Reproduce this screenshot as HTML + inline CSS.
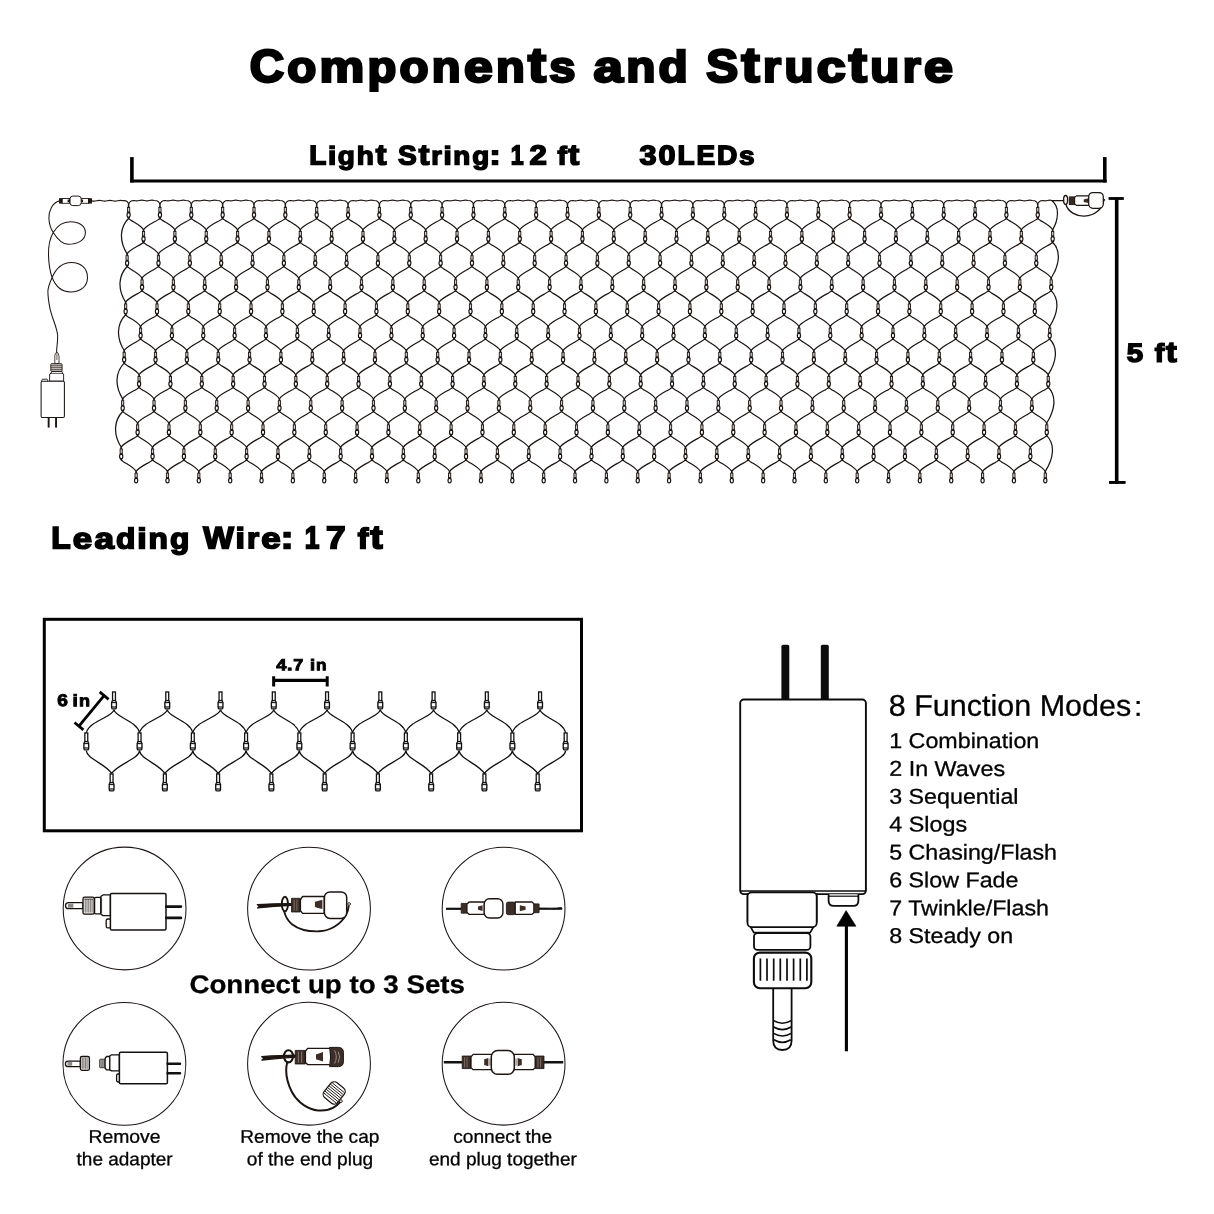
<!DOCTYPE html>
<html><head><meta charset="utf-8"><title>Components and Structure</title>
<style>
html,body{margin:0;padding:0;background:#fff;}
body{width:1214px;height:1214px;overflow:hidden;}
svg{display:block;position:absolute;left:0;top:0;}
text{font-family:"Liberation Sans",sans-serif;fill:#000;text-rendering:geometricPrecision;}
</style></head><body>
<svg width="1214" height="1214" viewBox="0 0 1214 1214">
<rect width="1214" height="1214" fill="#fff"/>
<g opacity="0.999">
<g font-weight="bold" stroke="#000" stroke-linejoin="miter" fill="#000">
<text transform="matrix(1.04 0.001 0 1 249.85 81.7)" font-size="45.75" stroke-width="2.6">C</text><text transform="matrix(1.04 0.001 0 0.943 287.3 81.78)" font-size="45.75" stroke-width="2.6">o</text><text transform="matrix(1.1 0.001 0 0.943 319.5 81.78)" font-size="45.75" stroke-width="2.6">m</text><text transform="matrix(1.03 0.001 0 0.943 367.61 81.78)" font-size="45.75" stroke-width="2.6">p</text><text transform="matrix(1.04 0.001 0 0.943 399.56 81.78)" font-size="45.75" stroke-width="2.6">o</text><text transform="matrix(1.03 0.001 0 0.943 431.78 81.78)" font-size="45.75" stroke-width="2.6">n</text><text transform="matrix(1.13 0.001 0 0.943 463.88 81.78)" font-size="45.75" stroke-width="2.6">e</text><text transform="matrix(1.03 0.001 0 0.943 495.94 81.78)" font-size="45.75" stroke-width="2.6">n</text><text transform="matrix(1.18 0.001 0 1.06 527.99 81.62)" font-size="45.75" stroke-width="2.6">t</text><text transform="matrix(1.03 0.001 0 0.943 549.22 81.78)" font-size="45.75" stroke-width="2.6">s</text>
<text transform="matrix(1.14 0.001 0 0.943 593.61 81.76)" font-size="46.38" stroke-width="2.63">a</text><text transform="matrix(1.03 0.001 0 0.943 626.18 81.76)" font-size="46.38" stroke-width="2.63">n</text><text transform="matrix(1.03 0.001 0 0.943 658.56 81.76)" font-size="46.38" stroke-width="2.63">d</text>
<text transform="matrix(1.04 0.001 0 1 706.32 81.69)" font-size="46" stroke-width="2.61">S</text><text transform="matrix(1.18 0.001 0 1.06 741.42 81.62)" font-size="46" stroke-width="2.61">t</text><text transform="matrix(1.01 0.001 0 0.943 763.09 81.77)" font-size="46" stroke-width="2.61">r</text><text transform="matrix(1.03 0.001 0 0.943 784.38 81.77)" font-size="46" stroke-width="2.61">u</text><text transform="matrix(1.13 0.001 0 0.943 816.66 81.77)" font-size="46" stroke-width="2.61">c</text><text transform="matrix(1.18 0.001 0 1.06 848.87 81.62)" font-size="46" stroke-width="2.61">t</text><text transform="matrix(1.03 0.001 0 0.943 870.36 81.77)" font-size="46" stroke-width="2.61">u</text><text transform="matrix(1.01 0.001 0 0.943 902.8 81.77)" font-size="46" stroke-width="2.61">r</text><text transform="matrix(1.13 0.001 0 0.943 924.11 81.77)" font-size="46" stroke-width="2.61">e</text>
<text transform="matrix(1.03 0.001 0 1 309.3 164.43)" font-size="27.12" stroke-width="1.54">L</text><text transform="matrix(1.1 0.001 0 0.943 327.93 164.47)" font-size="27.12" stroke-width="1.54">i</text><text transform="matrix(1.03 0.001 0 0.943 337.73 164.47)" font-size="27.12" stroke-width="1.54">g</text><text transform="matrix(1.03 0.001 0 0.943 356.84 164.47)" font-size="27.12" stroke-width="1.54">h</text><text transform="matrix(1.18 0.001 0 1.06 375.82 164.38)" font-size="27.12" stroke-width="1.54">t</text>
<text transform="matrix(1.04 0.001 0 1 398.05 164.43)" font-size="26.99" stroke-width="1.53">S</text><text transform="matrix(1.18 0.001 0 1.06 418.65 164.39)" font-size="26.99" stroke-width="1.53">t</text><text transform="matrix(1.01 0.001 0 0.943 431.37 164.48)" font-size="26.99" stroke-width="1.53">r</text><text transform="matrix(1.1 0.001 0 0.943 443.48 164.48)" font-size="26.99" stroke-width="1.53">i</text><text transform="matrix(1.03 0.001 0 0.943 453.31 164.48)" font-size="26.99" stroke-width="1.53">n</text><text transform="matrix(1.03 0.001 0 0.943 472.16 164.48)" font-size="26.99" stroke-width="1.53">g</text><text transform="matrix(1.23 0.001 0 1 489.38 164.43)" font-size="26.99" stroke-width="1.53">:</text>
<text transform="matrix(0.84 0.001 0 1 510.81 164.42)" font-size="27.6" stroke-width="1.57">1</text><text transform="matrix(1.13 0.001 0 1 529.5 164.42)" font-size="27.6" stroke-width="1.57">2</text>
<text transform="matrix(1.04 0.001 0 0.943 557.41 164.47)" font-size="27.15" stroke-width="1.54">f</text><text transform="matrix(1.18 0.001 0 1.06 568.61 164.38)" font-size="27.15" stroke-width="1.54">t</text>
<text transform="matrix(1.13 0.001 0 1 639.38 164.43)" font-size="27.1" stroke-width="1.54">3</text><text transform="matrix(1.13 0.001 0 1 658.45 164.43)" font-size="27.1" stroke-width="1.54">0</text><text transform="matrix(1.03 0.001 0 1 677.44 164.43)" font-size="27.1" stroke-width="1.54">L</text><text transform="matrix(1.03 0.001 0 1 696.43 164.43)" font-size="27.1" stroke-width="1.54">E</text><text transform="matrix(1.04 0.001 0 1 716.99 164.43)" font-size="27.1" stroke-width="1.54">D</text><text transform="matrix(1.03 0.001 0 0.943 739.09 164.47)" font-size="27.1" stroke-width="1.54">s</text>
<text transform="matrix(1.13 0.001 0 1 1126.68 361.86)" font-size="26.12" stroke-width="1.48">5</text>
<text transform="matrix(1.04 0.001 0 0.943 1154.81 361.87)" font-size="27.15" stroke-width="1.54">f</text><text transform="matrix(1.18 0.001 0 1.06 1166.01 361.78)" font-size="27.15" stroke-width="1.54">t</text>
<text transform="matrix(1.03 0.001 0 1 51.26 548.33)" font-size="30.79" stroke-width="1.75">L</text><text transform="matrix(1.13 0.001 0 0.943 72.85 548.38)" font-size="30.79" stroke-width="1.75">e</text><text transform="matrix(1.14 0.001 0 0.943 94.4 548.38)" font-size="30.79" stroke-width="1.75">a</text><text transform="matrix(1.03 0.001 0 0.943 115.93 548.38)" font-size="30.79" stroke-width="1.75">d</text><text transform="matrix(1.1 0.001 0 0.943 137.17 548.38)" font-size="30.79" stroke-width="1.75">i</text><text transform="matrix(1.03 0.001 0 0.943 148.39 548.38)" font-size="30.79" stroke-width="1.75">n</text><text transform="matrix(1.03 0.001 0 0.943 169.88 548.38)" font-size="30.79" stroke-width="1.75">g</text>
<text transform="matrix(1.05 0.001 0 1 203.24 548.32)" font-size="30.9" stroke-width="1.75">W</text><text transform="matrix(1.1 0.001 0 0.943 235.5 548.37)" font-size="30.9" stroke-width="1.75">i</text><text transform="matrix(1.01 0.001 0 0.943 246.88 548.37)" font-size="30.9" stroke-width="1.75">r</text><text transform="matrix(1.13 0.001 0 0.943 261.19 548.37)" font-size="30.9" stroke-width="1.75">e</text><text transform="matrix(1.23 0.001 0 1 280.8 548.32)" font-size="30.9" stroke-width="1.75">:</text>
<text transform="matrix(0.84 0.001 0 1 304.8 548.31)" font-size="31.4" stroke-width="1.78">1</text><text transform="matrix(1.12 0.001 0 1 326.1 548.31)" font-size="31.4" stroke-width="1.78">7</text>
<text transform="matrix(1.04 0.001 0 0.943 357.75 548.38)" font-size="30.74" stroke-width="1.75">f</text><text transform="matrix(1.18 0.001 0 1.06 370.43 548.28)" font-size="30.74" stroke-width="1.75">t</text>
</g>
<g fill="#000">
<rect x="130.1" y="179.5" width="976.5" height="3"/>
<rect x="130.1" y="157.1" width="3.6" height="25.4"/>
<rect x="1103" y="157.1" width="3.6" height="25.4"/>
<rect x="1114.9" y="197.2" width="3.6" height="286.7"/>
<rect x="1108.6" y="197.1" width="15.2" height="2.8"/>
<rect x="1109" y="481" width="16.6" height="2.9"/>
</g>
<defs>
<g id="b"><path d="M0 0.2V2" stroke="#1c1512" stroke-width="1.7" fill="none"/><rect x="-1.1" y="2.0" width="2.2" height="4.5" fill="#cfccca" stroke="#1c1512" stroke-width="0.9"/><ellipse cx="0" cy="9.3" rx="1.6" ry="2.45" fill="#fff" stroke="#1c1512" stroke-width="1.2"/><path d="M-1.65 8.3 Q-1.4 6.35 0 6.35 Q1.4 6.35 1.65 8.3 Q0 7.4 -1.65 8.3Z" fill="#1c1512"/><path d="M-1.3 11.1 L0 12.8 L1.3 11.1" fill="none" stroke="#1c1512" stroke-width="1.05"/></g>
<g id="b2"><path d="M0 0.2V2" stroke="#1c1512" stroke-width="1.7" fill="none"/><rect x="-1.1" y="2.0" width="2.2" height="4.5" fill="#cfccca" stroke="#1c1512" stroke-width="0.9"/><ellipse cx="0" cy="9.3" rx="1.6" ry="2.45" fill="#fff" stroke="#1c1512" stroke-width="1.2"/><path d="M-1.65 8.3 Q-1.4 6.35 0 6.35 Q1.4 6.35 1.65 8.3 Q0 7.4 -1.65 8.3Z" fill="#1c1512"/></g>
</defs>
<path d="M128.6 218.3C130.69 221.05 140.69 224.61 143.53 229.77M159.95 218.3C157.65 221.05 146.65 224.61 143.53 229.77M159.95 218.3C162.04 221.05 172.04 224.61 174.88 229.77M191.3 218.3C189 221.05 178 224.61 174.88 229.77M191.3 218.3C193.39 221.05 203.39 224.61 206.23 229.77M222.65 218.3C220.35 221.05 209.35 224.61 206.23 229.77M222.65 218.3C224.74 221.05 234.74 224.61 237.58 229.77M254 218.3C251.7 221.05 240.7 224.61 237.58 229.77M254 218.3C256.09 221.05 266.09 224.61 268.93 229.77M285.35 218.3C283.05 221.05 272.05 224.61 268.93 229.77M285.35 218.3C287.44 221.05 297.44 224.61 300.28 229.77M316.7 218.3C314.4 221.05 303.4 224.61 300.28 229.77M316.7 218.3C318.79 221.05 328.79 224.61 331.63 229.77M348.05 218.3C345.75 221.05 334.75 224.61 331.63 229.77M348.05 218.3C350.14 221.05 360.14 224.61 362.98 229.77M379.4 218.3C377.1 221.05 366.1 224.61 362.98 229.77M379.4 218.3C381.49 221.05 391.49 224.61 394.33 229.77M410.75 218.3C408.45 221.05 397.45 224.61 394.33 229.77M410.75 218.3C412.84 221.05 422.84 224.61 425.68 229.77M442.1 218.3C439.8 221.05 428.8 224.61 425.68 229.77M442.1 218.3C444.19 221.05 454.19 224.61 457.03 229.77M473.45 218.3C471.15 221.05 460.15 224.61 457.03 229.77M473.45 218.3C475.54 221.05 485.54 224.61 488.38 229.77M504.8 218.3C502.5 221.05 491.5 224.61 488.38 229.77M504.8 218.3C506.89 221.05 516.89 224.61 519.73 229.77M536.15 218.3C533.85 221.05 522.85 224.61 519.73 229.77M536.15 218.3C538.24 221.05 548.24 224.61 551.08 229.77M567.5 218.3C565.2 221.05 554.2 224.61 551.08 229.77M567.5 218.3C569.59 221.05 579.59 224.61 582.43 229.77M598.85 218.3C596.55 221.05 585.55 224.61 582.43 229.77M598.85 218.3C600.94 221.05 610.94 224.61 613.78 229.77M630.2 218.3C627.9 221.05 616.9 224.61 613.78 229.77M630.2 218.3C632.29 221.05 642.29 224.61 645.13 229.77M661.55 218.3C659.25 221.05 648.25 224.61 645.13 229.77M661.55 218.3C663.64 221.05 673.64 224.61 676.48 229.77M692.9 218.3C690.6 221.05 679.6 224.61 676.48 229.77M692.9 218.3C694.99 221.05 704.99 224.61 707.83 229.77M724.25 218.3C721.95 221.05 710.95 224.61 707.83 229.77M724.25 218.3C726.34 221.05 736.34 224.61 739.18 229.77M755.6 218.3C753.3 221.05 742.3 224.61 739.18 229.77M755.6 218.3C757.69 221.05 767.69 224.61 770.53 229.77M786.95 218.3C784.65 221.05 773.65 224.61 770.53 229.77M786.95 218.3C789.04 221.05 799.04 224.61 801.88 229.77M818.3 218.3C816 221.05 805 224.61 801.88 229.77M818.3 218.3C820.39 221.05 830.39 224.61 833.23 229.77M849.65 218.3C847.35 221.05 836.35 224.61 833.23 229.77M849.65 218.3C851.74 221.05 861.74 224.61 864.58 229.77M881 218.3C878.7 221.05 867.7 224.61 864.58 229.77M881 218.3C883.09 221.05 893.09 224.61 895.93 229.77M912.35 218.3C910.05 221.05 899.05 224.61 895.93 229.77M912.35 218.3C914.44 221.05 924.44 224.61 927.28 229.77M943.7 218.3C941.4 221.05 930.4 224.61 927.28 229.77M943.7 218.3C945.79 221.05 955.79 224.61 958.63 229.77M975.05 218.3C972.75 221.05 961.75 224.61 958.63 229.77M975.05 218.3C977.14 221.05 987.14 224.61 989.98 229.77M1006.4 218.3C1004.1 221.05 993.1 224.61 989.98 229.77M1006.4 218.3C1008.49 221.05 1018.49 224.61 1021.33 229.77M1037.75 218.3C1035.45 221.05 1024.45 224.61 1021.33 229.77M1037.75 218.3C1039.84 221.05 1049.84 224.61 1052.68 229.77M143.53 242.27C141.23 245.07 130.24 248.69 127.12 253.94M143.53 242.27C145.62 245.07 155.63 248.69 158.47 253.94M174.88 242.27C172.58 245.07 161.59 248.69 158.47 253.94M174.88 242.27C176.97 245.07 186.98 248.69 189.82 253.94M206.23 242.27C203.93 245.07 192.94 248.69 189.82 253.94M206.23 242.27C208.32 245.07 218.33 248.69 221.17 253.94M237.58 242.27C235.28 245.07 224.29 248.69 221.17 253.94M237.58 242.27C239.67 245.07 249.68 248.69 252.52 253.94M268.93 242.27C266.63 245.07 255.64 248.69 252.52 253.94M268.93 242.27C271.02 245.07 281.03 248.69 283.87 253.94M300.28 242.27C297.98 245.07 286.99 248.69 283.87 253.94M300.28 242.27C302.37 245.07 312.38 248.69 315.22 253.94M331.63 242.27C329.33 245.07 318.34 248.69 315.22 253.94M331.63 242.27C333.72 245.07 343.73 248.69 346.57 253.94M362.98 242.27C360.68 245.07 349.69 248.69 346.57 253.94M362.98 242.27C365.07 245.07 375.08 248.69 377.92 253.94M394.33 242.27C392.03 245.07 381.04 248.69 377.92 253.94M394.33 242.27C396.42 245.07 406.43 248.69 409.27 253.94M425.68 242.27C423.38 245.07 412.39 248.69 409.27 253.94M425.68 242.27C427.77 245.07 437.78 248.69 440.62 253.94M457.03 242.27C454.73 245.07 443.74 248.69 440.62 253.94M457.03 242.27C459.12 245.07 469.13 248.69 471.97 253.94M488.38 242.27C486.08 245.07 475.09 248.69 471.97 253.94M488.38 242.27C490.47 245.07 500.48 248.69 503.32 253.94M519.73 242.27C517.43 245.07 506.44 248.69 503.32 253.94M519.73 242.27C521.82 245.07 531.83 248.69 534.67 253.94M551.08 242.27C548.78 245.07 537.79 248.69 534.67 253.94M551.08 242.27C553.17 245.07 563.18 248.69 566.02 253.94M582.43 242.27C580.13 245.07 569.14 248.69 566.02 253.94M582.43 242.27C584.52 245.07 594.53 248.69 597.37 253.94M613.78 242.27C611.48 245.07 600.49 248.69 597.37 253.94M613.78 242.27C615.87 245.07 625.88 248.69 628.72 253.94M645.13 242.27C642.83 245.07 631.84 248.69 628.72 253.94M645.13 242.27C647.22 245.07 657.23 248.69 660.07 253.94M676.48 242.27C674.18 245.07 663.19 248.69 660.07 253.94M676.48 242.27C678.57 245.07 688.58 248.69 691.42 253.94M707.83 242.27C705.53 245.07 694.54 248.69 691.42 253.94M707.83 242.27C709.92 245.07 719.93 248.69 722.77 253.94M739.18 242.27C736.88 245.07 725.89 248.69 722.77 253.94M739.18 242.27C741.27 245.07 751.28 248.69 754.12 253.94M770.53 242.27C768.23 245.07 757.24 248.69 754.12 253.94M770.53 242.27C772.62 245.07 782.63 248.69 785.47 253.94M801.88 242.27C799.58 245.07 788.59 248.69 785.47 253.94M801.88 242.27C803.97 245.07 813.98 248.69 816.82 253.94M833.23 242.27C830.93 245.07 819.94 248.69 816.82 253.94M833.23 242.27C835.32 245.07 845.33 248.69 848.17 253.94M864.58 242.27C862.28 245.07 851.29 248.69 848.17 253.94M864.58 242.27C866.67 245.07 876.68 248.69 879.52 253.94M895.93 242.27C893.63 245.07 882.64 248.69 879.52 253.94M895.93 242.27C898.02 245.07 908.03 248.69 910.87 253.94M927.28 242.27C924.98 245.07 913.99 248.69 910.87 253.94M927.28 242.27C929.37 245.07 939.38 248.69 942.22 253.94M958.63 242.27C956.33 245.07 945.34 248.69 942.22 253.94M958.63 242.27C960.72 245.07 970.73 248.69 973.57 253.94M989.98 242.27C987.68 245.07 976.69 248.69 973.57 253.94M989.98 242.27C992.07 245.07 1002.08 248.69 1004.92 253.94M1021.33 242.27C1019.03 245.07 1008.04 248.69 1004.92 253.94M1021.33 242.27C1023.42 245.07 1033.43 248.69 1036.27 253.94M1052.68 242.27C1050.38 245.07 1039.39 248.69 1036.27 253.94M127.12 266.44C129.21 269.24 139.21 272.86 142.05 278.11M158.47 266.44C156.17 269.24 145.17 272.86 142.05 278.11M158.47 266.44C160.56 269.24 170.56 272.86 173.4 278.11M189.82 266.44C187.52 269.24 176.52 272.86 173.4 278.11M189.82 266.44C191.91 269.24 201.91 272.86 204.75 278.11M221.17 266.44C218.87 269.24 207.87 272.86 204.75 278.11M221.17 266.44C223.26 269.24 233.26 272.86 236.1 278.11M252.52 266.44C250.22 269.24 239.22 272.86 236.1 278.11M252.52 266.44C254.61 269.24 264.61 272.86 267.45 278.11M283.87 266.44C281.57 269.24 270.57 272.86 267.45 278.11M283.87 266.44C285.96 269.24 295.96 272.86 298.8 278.11M315.22 266.44C312.92 269.24 301.92 272.86 298.8 278.11M315.22 266.44C317.31 269.24 327.31 272.86 330.15 278.11M346.57 266.44C344.27 269.24 333.27 272.86 330.15 278.11M346.57 266.44C348.66 269.24 358.66 272.86 361.5 278.11M377.92 266.44C375.62 269.24 364.62 272.86 361.5 278.11M377.92 266.44C380.01 269.24 390.01 272.86 392.85 278.11M409.27 266.44C406.97 269.24 395.97 272.86 392.85 278.11M409.27 266.44C411.36 269.24 421.36 272.86 424.2 278.11M440.62 266.44C438.32 269.24 427.32 272.86 424.2 278.11M440.62 266.44C442.71 269.24 452.71 272.86 455.55 278.11M471.97 266.44C469.67 269.24 458.67 272.86 455.55 278.11M471.97 266.44C474.06 269.24 484.06 272.86 486.9 278.11M503.32 266.44C501.02 269.24 490.02 272.86 486.9 278.11M503.32 266.44C505.41 269.24 515.41 272.86 518.25 278.11M534.67 266.44C532.37 269.24 521.37 272.86 518.25 278.11M534.67 266.44C536.76 269.24 546.76 272.86 549.6 278.11M566.02 266.44C563.72 269.24 552.72 272.86 549.6 278.11M566.02 266.44C568.11 269.24 578.11 272.86 580.95 278.11M597.37 266.44C595.07 269.24 584.07 272.86 580.95 278.11M597.37 266.44C599.46 269.24 609.46 272.86 612.3 278.11M628.72 266.44C626.42 269.24 615.42 272.86 612.3 278.11M628.72 266.44C630.81 269.24 640.81 272.86 643.65 278.11M660.07 266.44C657.77 269.24 646.77 272.86 643.65 278.11M660.07 266.44C662.16 269.24 672.16 272.86 675 278.11M691.42 266.44C689.12 269.24 678.12 272.86 675 278.11M691.42 266.44C693.51 269.24 703.51 272.86 706.35 278.11M722.77 266.44C720.47 269.24 709.47 272.86 706.35 278.11M722.77 266.44C724.86 269.24 734.86 272.86 737.7 278.11M754.12 266.44C751.82 269.24 740.82 272.86 737.7 278.11M754.12 266.44C756.21 269.24 766.21 272.86 769.05 278.11M785.47 266.44C783.17 269.24 772.17 272.86 769.05 278.11M785.47 266.44C787.56 269.24 797.56 272.86 800.4 278.11M816.82 266.44C814.52 269.24 803.52 272.86 800.4 278.11M816.82 266.44C818.91 269.24 828.91 272.86 831.75 278.11M848.17 266.44C845.87 269.24 834.87 272.86 831.75 278.11M848.17 266.44C850.26 269.24 860.26 272.86 863.1 278.11M879.52 266.44C877.22 269.24 866.22 272.86 863.1 278.11M879.52 266.44C881.61 269.24 891.61 272.86 894.45 278.11M910.87 266.44C908.57 269.24 897.57 272.86 894.45 278.11M910.87 266.44C912.96 269.24 922.96 272.86 925.8 278.11M942.22 266.44C939.92 269.24 928.92 272.86 925.8 278.11M942.22 266.44C944.31 269.24 954.31 272.86 957.15 278.11M973.57 266.44C971.27 269.24 960.27 272.86 957.15 278.11M973.57 266.44C975.66 269.24 985.66 272.86 988.5 278.11M1004.92 266.44C1002.62 269.24 991.62 272.86 988.5 278.11M1004.92 266.44C1007.01 269.24 1017.01 272.86 1019.85 278.11M1036.27 266.44C1033.97 269.24 1022.97 272.86 1019.85 278.11M1036.27 266.44C1038.36 269.24 1048.36 272.86 1051.2 278.11M142.05 290.61C139.75 293.41 128.76 297.03 125.64 302.28M142.05 290.61C144.14 293.41 154.15 297.03 156.99 302.28M173.4 290.61C171.1 293.41 160.11 297.03 156.99 302.28M173.4 290.61C175.49 293.41 185.5 297.03 188.34 302.28M204.75 290.61C202.45 293.41 191.46 297.03 188.34 302.28M204.75 290.61C206.84 293.41 216.85 297.03 219.69 302.28M236.1 290.61C233.8 293.41 222.81 297.03 219.69 302.28M236.1 290.61C238.19 293.41 248.2 297.03 251.04 302.28M267.45 290.61C265.15 293.41 254.16 297.03 251.04 302.28M267.45 290.61C269.54 293.41 279.55 297.03 282.39 302.28M298.8 290.61C296.5 293.41 285.51 297.03 282.39 302.28M298.8 290.61C300.89 293.41 310.9 297.03 313.74 302.28M330.15 290.61C327.85 293.41 316.86 297.03 313.74 302.28M330.15 290.61C332.24 293.41 342.25 297.03 345.09 302.28M361.5 290.61C359.2 293.41 348.21 297.03 345.09 302.28M361.5 290.61C363.59 293.41 373.6 297.03 376.44 302.28M392.85 290.61C390.55 293.41 379.56 297.03 376.44 302.28M392.85 290.61C394.94 293.41 404.95 297.03 407.79 302.28M424.2 290.61C421.9 293.41 410.91 297.03 407.79 302.28M424.2 290.61C426.29 293.41 436.3 297.03 439.14 302.28M455.55 290.61C453.25 293.41 442.26 297.03 439.14 302.28M455.55 290.61C457.64 293.41 467.65 297.03 470.49 302.28M486.9 290.61C484.6 293.41 473.61 297.03 470.49 302.28M486.9 290.61C488.99 293.41 499 297.03 501.84 302.28M518.25 290.61C515.95 293.41 504.96 297.03 501.84 302.28M518.25 290.61C520.34 293.41 530.35 297.03 533.19 302.28M549.6 290.61C547.3 293.41 536.31 297.03 533.19 302.28M549.6 290.61C551.69 293.41 561.7 297.03 564.54 302.28M580.95 290.61C578.65 293.41 567.66 297.03 564.54 302.28M580.95 290.61C583.04 293.41 593.05 297.03 595.89 302.28M612.3 290.61C610 293.41 599.01 297.03 595.89 302.28M612.3 290.61C614.39 293.41 624.4 297.03 627.24 302.28M643.65 290.61C641.35 293.41 630.36 297.03 627.24 302.28M643.65 290.61C645.74 293.41 655.75 297.03 658.59 302.28M675 290.61C672.7 293.41 661.71 297.03 658.59 302.28M675 290.61C677.09 293.41 687.1 297.03 689.94 302.28M706.35 290.61C704.05 293.41 693.06 297.03 689.94 302.28M706.35 290.61C708.44 293.41 718.45 297.03 721.29 302.28M737.7 290.61C735.4 293.41 724.41 297.03 721.29 302.28M737.7 290.61C739.79 293.41 749.8 297.03 752.64 302.28M769.05 290.61C766.75 293.41 755.76 297.03 752.64 302.28M769.05 290.61C771.14 293.41 781.15 297.03 783.99 302.28M800.4 290.61C798.1 293.41 787.11 297.03 783.99 302.28M800.4 290.61C802.49 293.41 812.5 297.03 815.34 302.28M831.75 290.61C829.45 293.41 818.46 297.03 815.34 302.28M831.75 290.61C833.84 293.41 843.85 297.03 846.69 302.28M863.1 290.61C860.8 293.41 849.81 297.03 846.69 302.28M863.1 290.61C865.19 293.41 875.2 297.03 878.04 302.28M894.45 290.61C892.15 293.41 881.16 297.03 878.04 302.28M894.45 290.61C896.54 293.41 906.55 297.03 909.39 302.28M925.8 290.61C923.5 293.41 912.51 297.03 909.39 302.28M925.8 290.61C927.89 293.41 937.9 297.03 940.74 302.28M957.15 290.61C954.85 293.41 943.86 297.03 940.74 302.28M957.15 290.61C959.24 293.41 969.25 297.03 972.09 302.28M988.5 290.61C986.2 293.41 975.21 297.03 972.09 302.28M988.5 290.61C990.59 293.41 1000.6 297.03 1003.44 302.28M1019.85 290.61C1017.55 293.41 1006.56 297.03 1003.44 302.28M1019.85 290.61C1021.94 293.41 1031.95 297.03 1034.79 302.28M1051.2 290.61C1048.9 293.41 1037.91 297.03 1034.79 302.28M125.64 314.78C127.73 317.58 137.73 321.2 140.57 326.45M156.99 314.78C154.69 317.58 143.69 321.2 140.57 326.45M156.99 314.78C159.08 317.58 169.08 321.2 171.92 326.45M188.34 314.78C186.04 317.58 175.04 321.2 171.92 326.45M188.34 314.78C190.43 317.58 200.43 321.2 203.27 326.45M219.69 314.78C217.39 317.58 206.39 321.2 203.27 326.45M219.69 314.78C221.78 317.58 231.78 321.2 234.62 326.45M251.04 314.78C248.74 317.58 237.74 321.2 234.62 326.45M251.04 314.78C253.13 317.58 263.13 321.2 265.97 326.45M282.39 314.78C280.09 317.58 269.09 321.2 265.97 326.45M282.39 314.78C284.48 317.58 294.48 321.2 297.32 326.45M313.74 314.78C311.44 317.58 300.44 321.2 297.32 326.45M313.74 314.78C315.83 317.58 325.83 321.2 328.67 326.45M345.09 314.78C342.79 317.58 331.79 321.2 328.67 326.45M345.09 314.78C347.18 317.58 357.18 321.2 360.02 326.45M376.44 314.78C374.14 317.58 363.14 321.2 360.02 326.45M376.44 314.78C378.53 317.58 388.53 321.2 391.37 326.45M407.79 314.78C405.49 317.58 394.49 321.2 391.37 326.45M407.79 314.78C409.88 317.58 419.88 321.2 422.72 326.45M439.14 314.78C436.84 317.58 425.84 321.2 422.72 326.45M439.14 314.78C441.23 317.58 451.23 321.2 454.07 326.45M470.49 314.78C468.19 317.58 457.19 321.2 454.07 326.45M470.49 314.78C472.58 317.58 482.58 321.2 485.42 326.45M501.84 314.78C499.54 317.58 488.54 321.2 485.42 326.45M501.84 314.78C503.93 317.58 513.93 321.2 516.77 326.45M533.19 314.78C530.89 317.58 519.89 321.2 516.77 326.45M533.19 314.78C535.28 317.58 545.28 321.2 548.12 326.45M564.54 314.78C562.24 317.58 551.24 321.2 548.12 326.45M564.54 314.78C566.63 317.58 576.63 321.2 579.47 326.45M595.89 314.78C593.59 317.58 582.59 321.2 579.47 326.45M595.89 314.78C597.98 317.58 607.98 321.2 610.82 326.45M627.24 314.78C624.94 317.58 613.94 321.2 610.82 326.45M627.24 314.78C629.33 317.58 639.33 321.2 642.17 326.45M658.59 314.78C656.29 317.58 645.29 321.2 642.17 326.45M658.59 314.78C660.68 317.58 670.68 321.2 673.52 326.45M689.94 314.78C687.64 317.58 676.64 321.2 673.52 326.45M689.94 314.78C692.03 317.58 702.03 321.2 704.87 326.45M721.29 314.78C718.99 317.58 707.99 321.2 704.87 326.45M721.29 314.78C723.38 317.58 733.38 321.2 736.22 326.45M752.64 314.78C750.34 317.58 739.34 321.2 736.22 326.45M752.64 314.78C754.73 317.58 764.73 321.2 767.57 326.45M783.99 314.78C781.69 317.58 770.69 321.2 767.57 326.45M783.99 314.78C786.08 317.58 796.08 321.2 798.92 326.45M815.34 314.78C813.04 317.58 802.04 321.2 798.92 326.45M815.34 314.78C817.43 317.58 827.43 321.2 830.27 326.45M846.69 314.78C844.39 317.58 833.39 321.2 830.27 326.45M846.69 314.78C848.78 317.58 858.78 321.2 861.62 326.45M878.04 314.78C875.74 317.58 864.74 321.2 861.62 326.45M878.04 314.78C880.13 317.58 890.13 321.2 892.97 326.45M909.39 314.78C907.09 317.58 896.09 321.2 892.97 326.45M909.39 314.78C911.48 317.58 921.48 321.2 924.32 326.45M940.74 314.78C938.44 317.58 927.44 321.2 924.32 326.45M940.74 314.78C942.83 317.58 952.83 321.2 955.67 326.45M972.09 314.78C969.79 317.58 958.79 321.2 955.67 326.45M972.09 314.78C974.18 317.58 984.18 321.2 987.02 326.45M1003.44 314.78C1001.14 317.58 990.14 321.2 987.02 326.45M1003.44 314.78C1005.53 317.58 1015.53 321.2 1018.37 326.45M1034.79 314.78C1032.49 317.58 1021.49 321.2 1018.37 326.45M1034.79 314.78C1036.88 317.58 1046.88 321.2 1049.72 326.45M140.57 338.95C138.27 341.75 127.28 345.37 124.16 350.62M140.57 338.95C142.66 341.75 152.67 345.37 155.51 350.62M171.92 338.95C169.62 341.75 158.63 345.37 155.51 350.62M171.92 338.95C174.01 341.75 184.02 345.37 186.86 350.62M203.27 338.95C200.97 341.75 189.98 345.37 186.86 350.62M203.27 338.95C205.36 341.75 215.37 345.37 218.21 350.62M234.62 338.95C232.32 341.75 221.33 345.37 218.21 350.62M234.62 338.95C236.71 341.75 246.72 345.37 249.56 350.62M265.97 338.95C263.67 341.75 252.68 345.37 249.56 350.62M265.97 338.95C268.06 341.75 278.07 345.37 280.91 350.62M297.32 338.95C295.02 341.75 284.03 345.37 280.91 350.62M297.32 338.95C299.41 341.75 309.42 345.37 312.26 350.62M328.67 338.95C326.37 341.75 315.38 345.37 312.26 350.62M328.67 338.95C330.76 341.75 340.77 345.37 343.61 350.62M360.02 338.95C357.72 341.75 346.73 345.37 343.61 350.62M360.02 338.95C362.11 341.75 372.12 345.37 374.96 350.62M391.37 338.95C389.07 341.75 378.08 345.37 374.96 350.62M391.37 338.95C393.46 341.75 403.47 345.37 406.31 350.62M422.72 338.95C420.42 341.75 409.43 345.37 406.31 350.62M422.72 338.95C424.81 341.75 434.82 345.37 437.66 350.62M454.07 338.95C451.77 341.75 440.78 345.37 437.66 350.62M454.07 338.95C456.16 341.75 466.17 345.37 469.01 350.62M485.42 338.95C483.12 341.75 472.13 345.37 469.01 350.62M485.42 338.95C487.51 341.75 497.52 345.37 500.36 350.62M516.77 338.95C514.47 341.75 503.48 345.37 500.36 350.62M516.77 338.95C518.86 341.75 528.87 345.37 531.71 350.62M548.12 338.95C545.82 341.75 534.83 345.37 531.71 350.62M548.12 338.95C550.21 341.75 560.22 345.37 563.06 350.62M579.47 338.95C577.17 341.75 566.18 345.37 563.06 350.62M579.47 338.95C581.56 341.75 591.57 345.37 594.41 350.62M610.82 338.95C608.52 341.75 597.53 345.37 594.41 350.62M610.82 338.95C612.91 341.75 622.92 345.37 625.76 350.62M642.17 338.95C639.87 341.75 628.88 345.37 625.76 350.62M642.17 338.95C644.26 341.75 654.27 345.37 657.11 350.62M673.52 338.95C671.22 341.75 660.23 345.37 657.11 350.62M673.52 338.95C675.61 341.75 685.62 345.37 688.46 350.62M704.87 338.95C702.57 341.75 691.58 345.37 688.46 350.62M704.87 338.95C706.96 341.75 716.97 345.37 719.81 350.62M736.22 338.95C733.92 341.75 722.93 345.37 719.81 350.62M736.22 338.95C738.31 341.75 748.32 345.37 751.16 350.62M767.57 338.95C765.27 341.75 754.28 345.37 751.16 350.62M767.57 338.95C769.66 341.75 779.67 345.37 782.51 350.62M798.92 338.95C796.62 341.75 785.63 345.37 782.51 350.62M798.92 338.95C801.01 341.75 811.02 345.37 813.86 350.62M830.27 338.95C827.97 341.75 816.98 345.37 813.86 350.62M830.27 338.95C832.36 341.75 842.37 345.37 845.21 350.62M861.62 338.95C859.32 341.75 848.33 345.37 845.21 350.62M861.62 338.95C863.71 341.75 873.72 345.37 876.56 350.62M892.97 338.95C890.67 341.75 879.68 345.37 876.56 350.62M892.97 338.95C895.06 341.75 905.07 345.37 907.91 350.62M924.32 338.95C922.02 341.75 911.03 345.37 907.91 350.62M924.32 338.95C926.41 341.75 936.42 345.37 939.26 350.62M955.67 338.95C953.37 341.75 942.38 345.37 939.26 350.62M955.67 338.95C957.76 341.75 967.77 345.37 970.61 350.62M987.02 338.95C984.72 341.75 973.73 345.37 970.61 350.62M987.02 338.95C989.11 341.75 999.12 345.37 1001.96 350.62M1018.37 338.95C1016.07 341.75 1005.08 345.37 1001.96 350.62M1018.37 338.95C1020.46 341.75 1030.47 345.37 1033.31 350.62M1049.72 338.95C1047.42 341.75 1036.43 345.37 1033.31 350.62M124.16 363.12C126.25 365.92 136.25 369.54 139.09 374.79M155.51 363.12C153.21 365.92 142.21 369.54 139.09 374.79M155.51 363.12C157.6 365.92 167.6 369.54 170.44 374.79M186.86 363.12C184.56 365.92 173.56 369.54 170.44 374.79M186.86 363.12C188.95 365.92 198.95 369.54 201.79 374.79M218.21 363.12C215.91 365.92 204.91 369.54 201.79 374.79M218.21 363.12C220.3 365.92 230.3 369.54 233.14 374.79M249.56 363.12C247.26 365.92 236.26 369.54 233.14 374.79M249.56 363.12C251.65 365.92 261.65 369.54 264.49 374.79M280.91 363.12C278.61 365.92 267.61 369.54 264.49 374.79M280.91 363.12C283 365.92 293 369.54 295.84 374.79M312.26 363.12C309.96 365.92 298.96 369.54 295.84 374.79M312.26 363.12C314.35 365.92 324.35 369.54 327.19 374.79M343.61 363.12C341.31 365.92 330.31 369.54 327.19 374.79M343.61 363.12C345.7 365.92 355.7 369.54 358.54 374.79M374.96 363.12C372.66 365.92 361.66 369.54 358.54 374.79M374.96 363.12C377.05 365.92 387.05 369.54 389.89 374.79M406.31 363.12C404.01 365.92 393.01 369.54 389.89 374.79M406.31 363.12C408.4 365.92 418.4 369.54 421.24 374.79M437.66 363.12C435.36 365.92 424.36 369.54 421.24 374.79M437.66 363.12C439.75 365.92 449.75 369.54 452.59 374.79M469.01 363.12C466.71 365.92 455.71 369.54 452.59 374.79M469.01 363.12C471.1 365.92 481.1 369.54 483.94 374.79M500.36 363.12C498.06 365.92 487.06 369.54 483.94 374.79M500.36 363.12C502.45 365.92 512.45 369.54 515.29 374.79M531.71 363.12C529.41 365.92 518.41 369.54 515.29 374.79M531.71 363.12C533.8 365.92 543.8 369.54 546.64 374.79M563.06 363.12C560.76 365.92 549.76 369.54 546.64 374.79M563.06 363.12C565.15 365.92 575.15 369.54 577.99 374.79M594.41 363.12C592.11 365.92 581.11 369.54 577.99 374.79M594.41 363.12C596.5 365.92 606.5 369.54 609.34 374.79M625.76 363.12C623.46 365.92 612.46 369.54 609.34 374.79M625.76 363.12C627.85 365.92 637.85 369.54 640.69 374.79M657.11 363.12C654.81 365.92 643.81 369.54 640.69 374.79M657.11 363.12C659.2 365.92 669.2 369.54 672.04 374.79M688.46 363.12C686.16 365.92 675.16 369.54 672.04 374.79M688.46 363.12C690.55 365.92 700.55 369.54 703.39 374.79M719.81 363.12C717.51 365.92 706.51 369.54 703.39 374.79M719.81 363.12C721.9 365.92 731.9 369.54 734.74 374.79M751.16 363.12C748.86 365.92 737.86 369.54 734.74 374.79M751.16 363.12C753.25 365.92 763.25 369.54 766.09 374.79M782.51 363.12C780.21 365.92 769.21 369.54 766.09 374.79M782.51 363.12C784.6 365.92 794.6 369.54 797.44 374.79M813.86 363.12C811.56 365.92 800.56 369.54 797.44 374.79M813.86 363.12C815.95 365.92 825.95 369.54 828.79 374.79M845.21 363.12C842.91 365.92 831.91 369.54 828.79 374.79M845.21 363.12C847.3 365.92 857.3 369.54 860.14 374.79M876.56 363.12C874.26 365.92 863.26 369.54 860.14 374.79M876.56 363.12C878.65 365.92 888.65 369.54 891.49 374.79M907.91 363.12C905.61 365.92 894.61 369.54 891.49 374.79M907.91 363.12C910 365.92 920 369.54 922.84 374.79M939.26 363.12C936.96 365.92 925.96 369.54 922.84 374.79M939.26 363.12C941.35 365.92 951.35 369.54 954.19 374.79M970.61 363.12C968.31 365.92 957.31 369.54 954.19 374.79M970.61 363.12C972.7 365.92 982.7 369.54 985.54 374.79M1001.96 363.12C999.66 365.92 988.66 369.54 985.54 374.79M1001.96 363.12C1004.05 365.92 1014.05 369.54 1016.89 374.79M1033.31 363.12C1031.01 365.92 1020.01 369.54 1016.89 374.79M1033.31 363.12C1035.4 365.92 1045.4 369.54 1048.24 374.79M139.09 387.29C136.79 390.09 125.8 393.71 122.68 398.96M139.09 387.29C141.18 390.09 151.19 393.71 154.03 398.96M170.44 387.29C168.14 390.09 157.15 393.71 154.03 398.96M170.44 387.29C172.53 390.09 182.54 393.71 185.38 398.96M201.79 387.29C199.49 390.09 188.5 393.71 185.38 398.96M201.79 387.29C203.88 390.09 213.89 393.71 216.73 398.96M233.14 387.29C230.84 390.09 219.85 393.71 216.73 398.96M233.14 387.29C235.23 390.09 245.24 393.71 248.08 398.96M264.49 387.29C262.19 390.09 251.2 393.71 248.08 398.96M264.49 387.29C266.58 390.09 276.59 393.71 279.43 398.96M295.84 387.29C293.54 390.09 282.55 393.71 279.43 398.96M295.84 387.29C297.93 390.09 307.94 393.71 310.78 398.96M327.19 387.29C324.89 390.09 313.9 393.71 310.78 398.96M327.19 387.29C329.28 390.09 339.29 393.71 342.13 398.96M358.54 387.29C356.24 390.09 345.25 393.71 342.13 398.96M358.54 387.29C360.63 390.09 370.64 393.71 373.48 398.96M389.89 387.29C387.59 390.09 376.6 393.71 373.48 398.96M389.89 387.29C391.98 390.09 401.99 393.71 404.83 398.96M421.24 387.29C418.94 390.09 407.95 393.71 404.83 398.96M421.24 387.29C423.33 390.09 433.34 393.71 436.18 398.96M452.59 387.29C450.29 390.09 439.3 393.71 436.18 398.96M452.59 387.29C454.68 390.09 464.69 393.71 467.53 398.96M483.94 387.29C481.64 390.09 470.65 393.71 467.53 398.96M483.94 387.29C486.03 390.09 496.04 393.71 498.88 398.96M515.29 387.29C512.99 390.09 502 393.71 498.88 398.96M515.29 387.29C517.38 390.09 527.39 393.71 530.23 398.96M546.64 387.29C544.34 390.09 533.35 393.71 530.23 398.96M546.64 387.29C548.73 390.09 558.74 393.71 561.58 398.96M577.99 387.29C575.69 390.09 564.7 393.71 561.58 398.96M577.99 387.29C580.08 390.09 590.09 393.71 592.93 398.96M609.34 387.29C607.04 390.09 596.05 393.71 592.93 398.96M609.34 387.29C611.43 390.09 621.44 393.71 624.28 398.96M640.69 387.29C638.39 390.09 627.4 393.71 624.28 398.96M640.69 387.29C642.78 390.09 652.79 393.71 655.63 398.96M672.04 387.29C669.74 390.09 658.75 393.71 655.63 398.96M672.04 387.29C674.13 390.09 684.14 393.71 686.98 398.96M703.39 387.29C701.09 390.09 690.1 393.71 686.98 398.96M703.39 387.29C705.48 390.09 715.49 393.71 718.33 398.96M734.74 387.29C732.44 390.09 721.45 393.71 718.33 398.96M734.74 387.29C736.83 390.09 746.84 393.71 749.68 398.96M766.09 387.29C763.79 390.09 752.8 393.71 749.68 398.96M766.09 387.29C768.18 390.09 778.19 393.71 781.03 398.96M797.44 387.29C795.14 390.09 784.15 393.71 781.03 398.96M797.44 387.29C799.53 390.09 809.54 393.71 812.38 398.96M828.79 387.29C826.49 390.09 815.5 393.71 812.38 398.96M828.79 387.29C830.88 390.09 840.89 393.71 843.73 398.96M860.14 387.29C857.84 390.09 846.85 393.71 843.73 398.96M860.14 387.29C862.23 390.09 872.24 393.71 875.08 398.96M891.49 387.29C889.19 390.09 878.2 393.71 875.08 398.96M891.49 387.29C893.58 390.09 903.59 393.71 906.43 398.96M922.84 387.29C920.54 390.09 909.55 393.71 906.43 398.96M922.84 387.29C924.93 390.09 934.94 393.71 937.78 398.96M954.19 387.29C951.89 390.09 940.9 393.71 937.78 398.96M954.19 387.29C956.28 390.09 966.29 393.71 969.13 398.96M985.54 387.29C983.24 390.09 972.25 393.71 969.13 398.96M985.54 387.29C987.63 390.09 997.64 393.71 1000.48 398.96M1016.89 387.29C1014.59 390.09 1003.6 393.71 1000.48 398.96M1016.89 387.29C1018.98 390.09 1028.99 393.71 1031.83 398.96M1048.24 387.29C1045.94 390.09 1034.95 393.71 1031.83 398.96M122.68 411.46C124.77 414.26 134.77 417.88 137.61 423.13M154.03 411.46C151.73 414.26 140.73 417.88 137.61 423.13M154.03 411.46C156.12 414.26 166.12 417.88 168.96 423.13M185.38 411.46C183.08 414.26 172.08 417.88 168.96 423.13M185.38 411.46C187.47 414.26 197.47 417.88 200.31 423.13M216.73 411.46C214.43 414.26 203.43 417.88 200.31 423.13M216.73 411.46C218.82 414.26 228.82 417.88 231.66 423.13M248.08 411.46C245.78 414.26 234.78 417.88 231.66 423.13M248.08 411.46C250.17 414.26 260.17 417.88 263.01 423.13M279.43 411.46C277.13 414.26 266.13 417.88 263.01 423.13M279.43 411.46C281.52 414.26 291.52 417.88 294.36 423.13M310.78 411.46C308.48 414.26 297.48 417.88 294.36 423.13M310.78 411.46C312.87 414.26 322.87 417.88 325.71 423.13M342.13 411.46C339.83 414.26 328.83 417.88 325.71 423.13M342.13 411.46C344.22 414.26 354.22 417.88 357.06 423.13M373.48 411.46C371.18 414.26 360.18 417.88 357.06 423.13M373.48 411.46C375.57 414.26 385.57 417.88 388.41 423.13M404.83 411.46C402.53 414.26 391.53 417.88 388.41 423.13M404.83 411.46C406.92 414.26 416.92 417.88 419.76 423.13M436.18 411.46C433.88 414.26 422.88 417.88 419.76 423.13M436.18 411.46C438.27 414.26 448.27 417.88 451.11 423.13M467.53 411.46C465.23 414.26 454.23 417.88 451.11 423.13M467.53 411.46C469.62 414.26 479.62 417.88 482.46 423.13M498.88 411.46C496.58 414.26 485.58 417.88 482.46 423.13M498.88 411.46C500.97 414.26 510.97 417.88 513.81 423.13M530.23 411.46C527.93 414.26 516.93 417.88 513.81 423.13M530.23 411.46C532.32 414.26 542.32 417.88 545.16 423.13M561.58 411.46C559.28 414.26 548.28 417.88 545.16 423.13M561.58 411.46C563.67 414.26 573.67 417.88 576.51 423.13M592.93 411.46C590.63 414.26 579.63 417.88 576.51 423.13M592.93 411.46C595.02 414.26 605.02 417.88 607.86 423.13M624.28 411.46C621.98 414.26 610.98 417.88 607.86 423.13M624.28 411.46C626.37 414.26 636.37 417.88 639.21 423.13M655.63 411.46C653.33 414.26 642.33 417.88 639.21 423.13M655.63 411.46C657.72 414.26 667.72 417.88 670.56 423.13M686.98 411.46C684.68 414.26 673.68 417.88 670.56 423.13M686.98 411.46C689.07 414.26 699.07 417.88 701.91 423.13M718.33 411.46C716.03 414.26 705.03 417.88 701.91 423.13M718.33 411.46C720.42 414.26 730.42 417.88 733.26 423.13M749.68 411.46C747.38 414.26 736.38 417.88 733.26 423.13M749.68 411.46C751.77 414.26 761.77 417.88 764.61 423.13M781.03 411.46C778.73 414.26 767.73 417.88 764.61 423.13M781.03 411.46C783.12 414.26 793.12 417.88 795.96 423.13M812.38 411.46C810.08 414.26 799.08 417.88 795.96 423.13M812.38 411.46C814.47 414.26 824.47 417.88 827.31 423.13M843.73 411.46C841.43 414.26 830.43 417.88 827.31 423.13M843.73 411.46C845.82 414.26 855.82 417.88 858.66 423.13M875.08 411.46C872.78 414.26 861.78 417.88 858.66 423.13M875.08 411.46C877.17 414.26 887.17 417.88 890.01 423.13M906.43 411.46C904.13 414.26 893.13 417.88 890.01 423.13M906.43 411.46C908.52 414.26 918.52 417.88 921.36 423.13M937.78 411.46C935.48 414.26 924.48 417.88 921.36 423.13M937.78 411.46C939.87 414.26 949.87 417.88 952.71 423.13M969.13 411.46C966.83 414.26 955.83 417.88 952.71 423.13M969.13 411.46C971.22 414.26 981.22 417.88 984.06 423.13M1000.48 411.46C998.18 414.26 987.18 417.88 984.06 423.13M1000.48 411.46C1002.57 414.26 1012.57 417.88 1015.41 423.13M1031.83 411.46C1029.53 414.26 1018.53 417.88 1015.41 423.13M1031.83 411.46C1033.92 414.26 1043.92 417.88 1046.76 423.13M137.61 435.63C135.31 438.43 124.32 442.05 121.2 447.3M137.61 435.63C139.7 438.43 149.71 442.05 152.55 447.3M168.96 435.63C166.66 438.43 155.67 442.05 152.55 447.3M168.96 435.63C171.05 438.43 181.06 442.05 183.9 447.3M200.31 435.63C198.01 438.43 187.02 442.05 183.9 447.3M200.31 435.63C202.4 438.43 212.41 442.05 215.25 447.3M231.66 435.63C229.36 438.43 218.37 442.05 215.25 447.3M231.66 435.63C233.75 438.43 243.76 442.05 246.6 447.3M263.01 435.63C260.71 438.43 249.72 442.05 246.6 447.3M263.01 435.63C265.1 438.43 275.11 442.05 277.95 447.3M294.36 435.63C292.06 438.43 281.07 442.05 277.95 447.3M294.36 435.63C296.45 438.43 306.46 442.05 309.3 447.3M325.71 435.63C323.41 438.43 312.42 442.05 309.3 447.3M325.71 435.63C327.8 438.43 337.81 442.05 340.65 447.3M357.06 435.63C354.76 438.43 343.77 442.05 340.65 447.3M357.06 435.63C359.15 438.43 369.16 442.05 372 447.3M388.41 435.63C386.11 438.43 375.12 442.05 372 447.3M388.41 435.63C390.5 438.43 400.51 442.05 403.35 447.3M419.76 435.63C417.46 438.43 406.47 442.05 403.35 447.3M419.76 435.63C421.85 438.43 431.86 442.05 434.7 447.3M451.11 435.63C448.81 438.43 437.82 442.05 434.7 447.3M451.11 435.63C453.2 438.43 463.21 442.05 466.05 447.3M482.46 435.63C480.16 438.43 469.17 442.05 466.05 447.3M482.46 435.63C484.55 438.43 494.56 442.05 497.4 447.3M513.81 435.63C511.51 438.43 500.52 442.05 497.4 447.3M513.81 435.63C515.9 438.43 525.91 442.05 528.75 447.3M545.16 435.63C542.86 438.43 531.87 442.05 528.75 447.3M545.16 435.63C547.25 438.43 557.26 442.05 560.1 447.3M576.51 435.63C574.21 438.43 563.22 442.05 560.1 447.3M576.51 435.63C578.6 438.43 588.61 442.05 591.45 447.3M607.86 435.63C605.56 438.43 594.57 442.05 591.45 447.3M607.86 435.63C609.95 438.43 619.96 442.05 622.8 447.3M639.21 435.63C636.91 438.43 625.92 442.05 622.8 447.3M639.21 435.63C641.3 438.43 651.31 442.05 654.15 447.3M670.56 435.63C668.26 438.43 657.27 442.05 654.15 447.3M670.56 435.63C672.65 438.43 682.66 442.05 685.5 447.3M701.91 435.63C699.61 438.43 688.62 442.05 685.5 447.3M701.91 435.63C704 438.43 714.01 442.05 716.85 447.3M733.26 435.63C730.96 438.43 719.97 442.05 716.85 447.3M733.26 435.63C735.35 438.43 745.36 442.05 748.2 447.3M764.61 435.63C762.31 438.43 751.32 442.05 748.2 447.3M764.61 435.63C766.7 438.43 776.71 442.05 779.55 447.3M795.96 435.63C793.66 438.43 782.67 442.05 779.55 447.3M795.96 435.63C798.05 438.43 808.06 442.05 810.9 447.3M827.31 435.63C825.01 438.43 814.02 442.05 810.9 447.3M827.31 435.63C829.4 438.43 839.41 442.05 842.25 447.3M858.66 435.63C856.36 438.43 845.37 442.05 842.25 447.3M858.66 435.63C860.75 438.43 870.76 442.05 873.6 447.3M890.01 435.63C887.71 438.43 876.72 442.05 873.6 447.3M890.01 435.63C892.1 438.43 902.11 442.05 904.95 447.3M921.36 435.63C919.06 438.43 908.07 442.05 904.95 447.3M921.36 435.63C923.45 438.43 933.46 442.05 936.3 447.3M952.71 435.63C950.41 438.43 939.42 442.05 936.3 447.3M952.71 435.63C954.8 438.43 964.81 442.05 967.65 447.3M984.06 435.63C981.76 438.43 970.77 442.05 967.65 447.3M984.06 435.63C986.15 438.43 996.16 442.05 999 447.3M1015.41 435.63C1013.11 438.43 1002.12 442.05 999 447.3M1015.41 435.63C1017.5 438.43 1027.51 442.05 1030.35 447.3M1046.76 435.63C1044.46 438.43 1033.47 442.05 1030.35 447.3M121.2 459.8C123.29 462.6 133.29 466.22 136.13 471.47M152.55 459.8C150.25 462.6 139.25 466.22 136.13 471.47M152.55 459.8C154.64 462.6 164.64 466.22 167.48 471.47M183.9 459.8C181.6 462.6 170.6 466.22 167.48 471.47M183.9 459.8C185.99 462.6 195.99 466.22 198.83 471.47M215.25 459.8C212.95 462.6 201.95 466.22 198.83 471.47M215.25 459.8C217.34 462.6 227.34 466.22 230.18 471.47M246.6 459.8C244.3 462.6 233.3 466.22 230.18 471.47M246.6 459.8C248.69 462.6 258.69 466.22 261.53 471.47M277.95 459.8C275.65 462.6 264.65 466.22 261.53 471.47M277.95 459.8C280.04 462.6 290.04 466.22 292.88 471.47M309.3 459.8C307 462.6 296 466.22 292.88 471.47M309.3 459.8C311.39 462.6 321.39 466.22 324.23 471.47M340.65 459.8C338.35 462.6 327.35 466.22 324.23 471.47M340.65 459.8C342.74 462.6 352.74 466.22 355.58 471.47M372 459.8C369.7 462.6 358.7 466.22 355.58 471.47M372 459.8C374.09 462.6 384.09 466.22 386.93 471.47M403.35 459.8C401.05 462.6 390.05 466.22 386.93 471.47M403.35 459.8C405.44 462.6 415.44 466.22 418.28 471.47M434.7 459.8C432.4 462.6 421.4 466.22 418.28 471.47M434.7 459.8C436.79 462.6 446.79 466.22 449.63 471.47M466.05 459.8C463.75 462.6 452.75 466.22 449.63 471.47M466.05 459.8C468.14 462.6 478.14 466.22 480.98 471.47M497.4 459.8C495.1 462.6 484.1 466.22 480.98 471.47M497.4 459.8C499.49 462.6 509.49 466.22 512.33 471.47M528.75 459.8C526.45 462.6 515.45 466.22 512.33 471.47M528.75 459.8C530.84 462.6 540.84 466.22 543.68 471.47M560.1 459.8C557.8 462.6 546.8 466.22 543.68 471.47M560.1 459.8C562.19 462.6 572.19 466.22 575.03 471.47M591.45 459.8C589.15 462.6 578.15 466.22 575.03 471.47M591.45 459.8C593.54 462.6 603.54 466.22 606.38 471.47M622.8 459.8C620.5 462.6 609.5 466.22 606.38 471.47M622.8 459.8C624.89 462.6 634.89 466.22 637.73 471.47M654.15 459.8C651.85 462.6 640.85 466.22 637.73 471.47M654.15 459.8C656.24 462.6 666.24 466.22 669.08 471.47M685.5 459.8C683.2 462.6 672.2 466.22 669.08 471.47M685.5 459.8C687.59 462.6 697.59 466.22 700.43 471.47M716.85 459.8C714.55 462.6 703.55 466.22 700.43 471.47M716.85 459.8C718.94 462.6 728.94 466.22 731.78 471.47M748.2 459.8C745.9 462.6 734.9 466.22 731.78 471.47M748.2 459.8C750.29 462.6 760.29 466.22 763.13 471.47M779.55 459.8C777.25 462.6 766.25 466.22 763.13 471.47M779.55 459.8C781.64 462.6 791.64 466.22 794.48 471.47M810.9 459.8C808.6 462.6 797.6 466.22 794.48 471.47M810.9 459.8C812.99 462.6 822.99 466.22 825.83 471.47M842.25 459.8C839.95 462.6 828.95 466.22 825.83 471.47M842.25 459.8C844.34 462.6 854.34 466.22 857.18 471.47M873.6 459.8C871.3 462.6 860.3 466.22 857.18 471.47M873.6 459.8C875.69 462.6 885.69 466.22 888.53 471.47M904.95 459.8C902.65 462.6 891.65 466.22 888.53 471.47M904.95 459.8C907.04 462.6 917.04 466.22 919.88 471.47M936.3 459.8C934 462.6 923 466.22 919.88 471.47M936.3 459.8C938.39 462.6 948.39 466.22 951.23 471.47M967.65 459.8C965.35 462.6 954.35 466.22 951.23 471.47M967.65 459.8C969.74 462.6 979.74 466.22 982.58 471.47M999 459.8C996.7 462.6 985.7 466.22 982.58 471.47M999 459.8C1001.09 462.6 1011.09 466.22 1013.93 471.47M1030.35 459.8C1028.05 462.6 1017.05 466.22 1013.93 471.47M1030.35 459.8C1032.44 462.6 1042.44 466.22 1045.28 471.47M128.6 218.3C119.8 227.3 118.92 240.84 127.12 253.84M127.12 266.44C118.32 275.44 117.44 289.18 125.64 302.18M125.64 314.78C116.84 323.78 115.96 337.52 124.16 350.52M124.16 363.12C115.36 372.12 114.48 385.86 122.68 398.86M122.68 411.46C113.88 420.46 113 434.2 121.2 447.2M1052.68 242.27C1061.48 251.27 1059.4 265.01 1051.2 278.01M1051.2 290.61C1060 299.61 1057.92 313.35 1049.72 326.35M1049.72 338.95C1058.52 347.95 1056.44 361.69 1048.24 374.69M1048.24 387.29C1057.04 396.29 1054.96 410.03 1046.76 423.03M1046.76 435.63C1055.56 444.63 1053.48 458.37 1045.28 471.37" fill="none" stroke="#1c1512" stroke-width="1.25" stroke-linecap="round"/>
<path d="M128.6 205.7C128.6 202.5 129.8 200.5 134.1 200.5Q136.64 201.3 139.19 200.5Q141.73 199.7 144.27 200.5Q146.82 201.3 149.36 200.5Q151.91 199.7 154.45 200.5C158.75 200.5 159.95 202.5 159.95 205.7M159.95 205.7C159.95 202.5 161.15 200.5 165.45 200.5Q167.99 201.3 170.54 200.5Q173.08 199.7 175.62 200.5Q178.17 201.3 180.71 200.5Q183.26 199.7 185.8 200.5C190.1 200.5 191.3 202.5 191.3 205.7M191.3 205.7C191.3 202.5 192.5 200.5 196.8 200.5Q199.34 201.3 201.89 200.5Q204.43 199.7 206.98 200.5Q209.52 201.3 212.06 200.5Q214.61 199.7 217.15 200.5C221.45 200.5 222.65 202.5 222.65 205.7M222.65 205.7C222.65 202.5 223.85 200.5 228.15 200.5Q230.69 201.3 233.24 200.5Q235.78 199.7 238.32 200.5Q240.87 201.3 243.41 200.5Q245.96 199.7 248.5 200.5C252.8 200.5 254 202.5 254 205.7M254 205.7C254 202.5 255.2 200.5 259.5 200.5Q262.04 201.3 264.59 200.5Q267.13 199.7 269.68 200.5Q272.22 201.3 274.76 200.5Q277.31 199.7 279.85 200.5C284.15 200.5 285.35 202.5 285.35 205.7M285.35 205.7C285.35 202.5 286.55 200.5 290.85 200.5Q293.39 201.3 295.94 200.5Q298.48 199.7 301.03 200.5Q303.57 201.3 306.11 200.5Q308.66 199.7 311.2 200.5C315.5 200.5 316.7 202.5 316.7 205.7M316.7 205.7C316.7 202.5 317.9 200.5 322.2 200.5Q324.74 201.3 327.29 200.5Q329.83 199.7 332.38 200.5Q334.92 201.3 337.46 200.5Q340.01 199.7 342.55 200.5C346.85 200.5 348.05 202.5 348.05 205.7M348.05 205.7C348.05 202.5 349.25 200.5 353.55 200.5Q356.09 201.3 358.64 200.5Q361.18 199.7 363.73 200.5Q366.27 201.3 368.81 200.5Q371.36 199.7 373.9 200.5C378.2 200.5 379.4 202.5 379.4 205.7M379.4 205.7C379.4 202.5 380.6 200.5 384.9 200.5Q387.44 201.3 389.99 200.5Q392.53 199.7 395.07 200.5Q397.62 201.3 400.16 200.5Q402.71 199.7 405.25 200.5C409.55 200.5 410.75 202.5 410.75 205.7M410.75 205.7C410.75 202.5 411.95 200.5 416.25 200.5Q418.79 201.3 421.34 200.5Q423.88 199.7 426.43 200.5Q428.97 201.3 431.51 200.5Q434.06 199.7 436.6 200.5C440.9 200.5 442.1 202.5 442.1 205.7M442.1 205.7C442.1 202.5 443.3 200.5 447.6 200.5Q450.14 201.3 452.69 200.5Q455.23 199.7 457.78 200.5Q460.32 201.3 462.86 200.5Q465.41 199.7 467.95 200.5C472.25 200.5 473.45 202.5 473.45 205.7M473.45 205.7C473.45 202.5 474.65 200.5 478.95 200.5Q481.49 201.3 484.04 200.5Q486.58 199.7 489.13 200.5Q491.67 201.3 494.21 200.5Q496.76 199.7 499.3 200.5C503.6 200.5 504.8 202.5 504.8 205.7M504.8 205.7C504.8 202.5 506 200.5 510.3 200.5Q512.84 201.3 515.39 200.5Q517.93 199.7 520.48 200.5Q523.02 201.3 525.56 200.5Q528.11 199.7 530.65 200.5C534.95 200.5 536.15 202.5 536.15 205.7M536.15 205.7C536.15 202.5 537.35 200.5 541.65 200.5Q544.19 201.3 546.74 200.5Q549.28 199.7 551.83 200.5Q554.37 201.3 556.91 200.5Q559.46 199.7 562 200.5C566.3 200.5 567.5 202.5 567.5 205.7M567.5 205.7C567.5 202.5 568.7 200.5 573 200.5Q575.54 201.3 578.09 200.5Q580.63 199.7 583.17 200.5Q585.72 201.3 588.26 200.5Q590.81 199.7 593.35 200.5C597.65 200.5 598.85 202.5 598.85 205.7M598.85 205.7C598.85 202.5 600.05 200.5 604.35 200.5Q606.89 201.3 609.44 200.5Q611.98 199.7 614.53 200.5Q617.07 201.3 619.61 200.5Q622.16 199.7 624.7 200.5C629 200.5 630.2 202.5 630.2 205.7M630.2 205.7C630.2 202.5 631.4 200.5 635.7 200.5Q638.24 201.3 640.79 200.5Q643.33 199.7 645.88 200.5Q648.42 201.3 650.96 200.5Q653.51 199.7 656.05 200.5C660.35 200.5 661.55 202.5 661.55 205.7M661.55 205.7C661.55 202.5 662.75 200.5 667.05 200.5Q669.59 201.3 672.14 200.5Q674.68 199.7 677.23 200.5Q679.77 201.3 682.31 200.5Q684.86 199.7 687.4 200.5C691.7 200.5 692.9 202.5 692.9 205.7M692.9 205.7C692.9 202.5 694.1 200.5 698.4 200.5Q700.94 201.3 703.49 200.5Q706.03 199.7 708.58 200.5Q711.12 201.3 713.66 200.5Q716.21 199.7 718.75 200.5C723.05 200.5 724.25 202.5 724.25 205.7M724.25 205.7C724.25 202.5 725.45 200.5 729.75 200.5Q732.29 201.3 734.84 200.5Q737.38 199.7 739.92 200.5Q742.47 201.3 745.01 200.5Q747.56 199.7 750.1 200.5C754.4 200.5 755.6 202.5 755.6 205.7M755.6 205.7C755.6 202.5 756.8 200.5 761.1 200.5Q763.64 201.3 766.19 200.5Q768.73 199.7 771.28 200.5Q773.82 201.3 776.36 200.5Q778.91 199.7 781.45 200.5C785.75 200.5 786.95 202.5 786.95 205.7M786.95 205.7C786.95 202.5 788.15 200.5 792.45 200.5Q794.99 201.3 797.54 200.5Q800.08 199.7 802.62 200.5Q805.17 201.3 807.71 200.5Q810.26 199.7 812.8 200.5C817.1 200.5 818.3 202.5 818.3 205.7M818.3 205.7C818.3 202.5 819.5 200.5 823.8 200.5Q826.34 201.3 828.89 200.5Q831.43 199.7 833.98 200.5Q836.52 201.3 839.06 200.5Q841.61 199.7 844.15 200.5C848.45 200.5 849.65 202.5 849.65 205.7M849.65 205.7C849.65 202.5 850.85 200.5 855.15 200.5Q857.69 201.3 860.24 200.5Q862.78 199.7 865.33 200.5Q867.87 201.3 870.41 200.5Q872.96 199.7 875.5 200.5C879.8 200.5 881 202.5 881 205.7M881 205.7C881 202.5 882.2 200.5 886.5 200.5Q889.04 201.3 891.59 200.5Q894.13 199.7 896.68 200.5Q899.22 201.3 901.76 200.5Q904.31 199.7 906.85 200.5C911.15 200.5 912.35 202.5 912.35 205.7M912.35 205.7C912.35 202.5 913.55 200.5 917.85 200.5Q920.39 201.3 922.94 200.5Q925.48 199.7 928.03 200.5Q930.57 201.3 933.11 200.5Q935.66 199.7 938.2 200.5C942.5 200.5 943.7 202.5 943.7 205.7M943.7 205.7C943.7 202.5 944.9 200.5 949.2 200.5Q951.74 201.3 954.29 200.5Q956.83 199.7 959.38 200.5Q961.92 201.3 964.46 200.5Q967.01 199.7 969.55 200.5C973.85 200.5 975.05 202.5 975.05 205.7M975.05 205.7C975.05 202.5 976.25 200.5 980.55 200.5Q983.09 201.3 985.64 200.5Q988.18 199.7 990.73 200.5Q993.27 201.3 995.81 200.5Q998.36 199.7 1000.9 200.5C1005.2 200.5 1006.4 202.5 1006.4 205.7M1006.4 205.7C1006.4 202.5 1007.6 200.5 1011.9 200.5Q1014.44 201.3 1016.99 200.5Q1019.53 199.7 1022.08 200.5Q1024.62 201.3 1027.16 200.5Q1029.71 199.7 1032.25 200.5C1036.55 200.5 1037.75 202.5 1037.75 205.7M91.5 200.8Q94.13 201.5 96.77 200.7Q99.4 199.9 102.03 200.7Q104.67 201.5 107.3 200.7Q109.93 199.9 112.57 200.7Q115.2 201.5 117.83 200.7Q120.47 199.9 123.1 200.7C127.4 200.5 128.6 202.5 128.6 205.7M1037.75 205.7C1037.75 202.5 1038.95 200.5 1043.25 200.5Q1045.38 201.3 1047.5 200.5Q1049.62 199.7 1051.75 200.5L1063.6 200.6M1051.75 200.5C1059.75 206.5 1058.68 219.67 1052.68 229.67" fill="none" stroke="#1c1512" stroke-width="1.2" stroke-linecap="round"/>
<use href="#b" x="128.6" y="205.5"/><use href="#b" x="159.95" y="205.5"/><use href="#b" x="191.3" y="205.5"/><use href="#b" x="222.65" y="205.5"/><use href="#b" x="254" y="205.5"/><use href="#b" x="285.35" y="205.5"/><use href="#b" x="316.7" y="205.5"/><use href="#b" x="348.05" y="205.5"/><use href="#b" x="379.4" y="205.5"/><use href="#b" x="410.75" y="205.5"/><use href="#b" x="442.1" y="205.5"/><use href="#b" x="473.45" y="205.5"/><use href="#b" x="504.8" y="205.5"/><use href="#b" x="536.15" y="205.5"/><use href="#b" x="567.5" y="205.5"/><use href="#b" x="598.85" y="205.5"/><use href="#b" x="630.2" y="205.5"/><use href="#b" x="661.55" y="205.5"/><use href="#b" x="692.9" y="205.5"/><use href="#b" x="724.25" y="205.5"/><use href="#b" x="755.6" y="205.5"/><use href="#b" x="786.95" y="205.5"/><use href="#b" x="818.3" y="205.5"/><use href="#b" x="849.65" y="205.5"/><use href="#b" x="881" y="205.5"/><use href="#b" x="912.35" y="205.5"/><use href="#b" x="943.7" y="205.5"/><use href="#b" x="975.05" y="205.5"/><use href="#b" x="1006.4" y="205.5"/><use href="#b" x="1037.75" y="205.5"/><use href="#b" x="143.53" y="229.47"/><use href="#b" x="174.88" y="229.47"/><use href="#b" x="206.23" y="229.47"/><use href="#b" x="237.58" y="229.47"/><use href="#b" x="268.93" y="229.47"/><use href="#b" x="300.28" y="229.47"/><use href="#b" x="331.63" y="229.47"/><use href="#b" x="362.98" y="229.47"/><use href="#b" x="394.33" y="229.47"/><use href="#b" x="425.68" y="229.47"/><use href="#b" x="457.03" y="229.47"/><use href="#b" x="488.38" y="229.47"/><use href="#b" x="519.73" y="229.47"/><use href="#b" x="551.08" y="229.47"/><use href="#b" x="582.43" y="229.47"/><use href="#b" x="613.78" y="229.47"/><use href="#b" x="645.13" y="229.47"/><use href="#b" x="676.48" y="229.47"/><use href="#b" x="707.83" y="229.47"/><use href="#b" x="739.18" y="229.47"/><use href="#b" x="770.53" y="229.47"/><use href="#b" x="801.88" y="229.47"/><use href="#b" x="833.23" y="229.47"/><use href="#b" x="864.58" y="229.47"/><use href="#b" x="895.93" y="229.47"/><use href="#b" x="927.28" y="229.47"/><use href="#b" x="958.63" y="229.47"/><use href="#b" x="989.98" y="229.47"/><use href="#b" x="1021.33" y="229.47"/><use href="#b" x="1052.68" y="229.47"/><use href="#b" x="127.12" y="253.64"/><use href="#b" x="158.47" y="253.64"/><use href="#b" x="189.82" y="253.64"/><use href="#b" x="221.17" y="253.64"/><use href="#b" x="252.52" y="253.64"/><use href="#b" x="283.87" y="253.64"/><use href="#b" x="315.22" y="253.64"/><use href="#b" x="346.57" y="253.64"/><use href="#b" x="377.92" y="253.64"/><use href="#b" x="409.27" y="253.64"/><use href="#b" x="440.62" y="253.64"/><use href="#b" x="471.97" y="253.64"/><use href="#b" x="503.32" y="253.64"/><use href="#b" x="534.67" y="253.64"/><use href="#b" x="566.02" y="253.64"/><use href="#b" x="597.37" y="253.64"/><use href="#b" x="628.72" y="253.64"/><use href="#b" x="660.07" y="253.64"/><use href="#b" x="691.42" y="253.64"/><use href="#b" x="722.77" y="253.64"/><use href="#b" x="754.12" y="253.64"/><use href="#b" x="785.47" y="253.64"/><use href="#b" x="816.82" y="253.64"/><use href="#b" x="848.17" y="253.64"/><use href="#b" x="879.52" y="253.64"/><use href="#b" x="910.87" y="253.64"/><use href="#b" x="942.22" y="253.64"/><use href="#b" x="973.57" y="253.64"/><use href="#b" x="1004.92" y="253.64"/><use href="#b" x="1036.27" y="253.64"/><use href="#b" x="142.05" y="277.81"/><use href="#b" x="173.4" y="277.81"/><use href="#b" x="204.75" y="277.81"/><use href="#b" x="236.1" y="277.81"/><use href="#b" x="267.45" y="277.81"/><use href="#b" x="298.8" y="277.81"/><use href="#b" x="330.15" y="277.81"/><use href="#b" x="361.5" y="277.81"/><use href="#b" x="392.85" y="277.81"/><use href="#b" x="424.2" y="277.81"/><use href="#b" x="455.55" y="277.81"/><use href="#b" x="486.9" y="277.81"/><use href="#b" x="518.25" y="277.81"/><use href="#b" x="549.6" y="277.81"/><use href="#b" x="580.95" y="277.81"/><use href="#b" x="612.3" y="277.81"/><use href="#b" x="643.65" y="277.81"/><use href="#b" x="675" y="277.81"/><use href="#b" x="706.35" y="277.81"/><use href="#b" x="737.7" y="277.81"/><use href="#b" x="769.05" y="277.81"/><use href="#b" x="800.4" y="277.81"/><use href="#b" x="831.75" y="277.81"/><use href="#b" x="863.1" y="277.81"/><use href="#b" x="894.45" y="277.81"/><use href="#b" x="925.8" y="277.81"/><use href="#b" x="957.15" y="277.81"/><use href="#b" x="988.5" y="277.81"/><use href="#b" x="1019.85" y="277.81"/><use href="#b" x="1051.2" y="277.81"/><use href="#b" x="125.64" y="301.98"/><use href="#b" x="156.99" y="301.98"/><use href="#b" x="188.34" y="301.98"/><use href="#b" x="219.69" y="301.98"/><use href="#b" x="251.04" y="301.98"/><use href="#b" x="282.39" y="301.98"/><use href="#b" x="313.74" y="301.98"/><use href="#b" x="345.09" y="301.98"/><use href="#b" x="376.44" y="301.98"/><use href="#b" x="407.79" y="301.98"/><use href="#b" x="439.14" y="301.98"/><use href="#b" x="470.49" y="301.98"/><use href="#b" x="501.84" y="301.98"/><use href="#b" x="533.19" y="301.98"/><use href="#b" x="564.54" y="301.98"/><use href="#b" x="595.89" y="301.98"/><use href="#b" x="627.24" y="301.98"/><use href="#b" x="658.59" y="301.98"/><use href="#b" x="689.94" y="301.98"/><use href="#b" x="721.29" y="301.98"/><use href="#b" x="752.64" y="301.98"/><use href="#b" x="783.99" y="301.98"/><use href="#b" x="815.34" y="301.98"/><use href="#b" x="846.69" y="301.98"/><use href="#b" x="878.04" y="301.98"/><use href="#b" x="909.39" y="301.98"/><use href="#b" x="940.74" y="301.98"/><use href="#b" x="972.09" y="301.98"/><use href="#b" x="1003.44" y="301.98"/><use href="#b" x="1034.79" y="301.98"/><use href="#b" x="140.57" y="326.15"/><use href="#b" x="171.92" y="326.15"/><use href="#b" x="203.27" y="326.15"/><use href="#b" x="234.62" y="326.15"/><use href="#b" x="265.97" y="326.15"/><use href="#b" x="297.32" y="326.15"/><use href="#b" x="328.67" y="326.15"/><use href="#b" x="360.02" y="326.15"/><use href="#b" x="391.37" y="326.15"/><use href="#b" x="422.72" y="326.15"/><use href="#b" x="454.07" y="326.15"/><use href="#b" x="485.42" y="326.15"/><use href="#b" x="516.77" y="326.15"/><use href="#b" x="548.12" y="326.15"/><use href="#b" x="579.47" y="326.15"/><use href="#b" x="610.82" y="326.15"/><use href="#b" x="642.17" y="326.15"/><use href="#b" x="673.52" y="326.15"/><use href="#b" x="704.87" y="326.15"/><use href="#b" x="736.22" y="326.15"/><use href="#b" x="767.57" y="326.15"/><use href="#b" x="798.92" y="326.15"/><use href="#b" x="830.27" y="326.15"/><use href="#b" x="861.62" y="326.15"/><use href="#b" x="892.97" y="326.15"/><use href="#b" x="924.32" y="326.15"/><use href="#b" x="955.67" y="326.15"/><use href="#b" x="987.02" y="326.15"/><use href="#b" x="1018.37" y="326.15"/><use href="#b" x="1049.72" y="326.15"/><use href="#b" x="124.16" y="350.32"/><use href="#b" x="155.51" y="350.32"/><use href="#b" x="186.86" y="350.32"/><use href="#b" x="218.21" y="350.32"/><use href="#b" x="249.56" y="350.32"/><use href="#b" x="280.91" y="350.32"/><use href="#b" x="312.26" y="350.32"/><use href="#b" x="343.61" y="350.32"/><use href="#b" x="374.96" y="350.32"/><use href="#b" x="406.31" y="350.32"/><use href="#b" x="437.66" y="350.32"/><use href="#b" x="469.01" y="350.32"/><use href="#b" x="500.36" y="350.32"/><use href="#b" x="531.71" y="350.32"/><use href="#b" x="563.06" y="350.32"/><use href="#b" x="594.41" y="350.32"/><use href="#b" x="625.76" y="350.32"/><use href="#b" x="657.11" y="350.32"/><use href="#b" x="688.46" y="350.32"/><use href="#b" x="719.81" y="350.32"/><use href="#b" x="751.16" y="350.32"/><use href="#b" x="782.51" y="350.32"/><use href="#b" x="813.86" y="350.32"/><use href="#b" x="845.21" y="350.32"/><use href="#b" x="876.56" y="350.32"/><use href="#b" x="907.91" y="350.32"/><use href="#b" x="939.26" y="350.32"/><use href="#b" x="970.61" y="350.32"/><use href="#b" x="1001.96" y="350.32"/><use href="#b" x="1033.31" y="350.32"/><use href="#b" x="139.09" y="374.49"/><use href="#b" x="170.44" y="374.49"/><use href="#b" x="201.79" y="374.49"/><use href="#b" x="233.14" y="374.49"/><use href="#b" x="264.49" y="374.49"/><use href="#b" x="295.84" y="374.49"/><use href="#b" x="327.19" y="374.49"/><use href="#b" x="358.54" y="374.49"/><use href="#b" x="389.89" y="374.49"/><use href="#b" x="421.24" y="374.49"/><use href="#b" x="452.59" y="374.49"/><use href="#b" x="483.94" y="374.49"/><use href="#b" x="515.29" y="374.49"/><use href="#b" x="546.64" y="374.49"/><use href="#b" x="577.99" y="374.49"/><use href="#b" x="609.34" y="374.49"/><use href="#b" x="640.69" y="374.49"/><use href="#b" x="672.04" y="374.49"/><use href="#b" x="703.39" y="374.49"/><use href="#b" x="734.74" y="374.49"/><use href="#b" x="766.09" y="374.49"/><use href="#b" x="797.44" y="374.49"/><use href="#b" x="828.79" y="374.49"/><use href="#b" x="860.14" y="374.49"/><use href="#b" x="891.49" y="374.49"/><use href="#b" x="922.84" y="374.49"/><use href="#b" x="954.19" y="374.49"/><use href="#b" x="985.54" y="374.49"/><use href="#b" x="1016.89" y="374.49"/><use href="#b" x="1048.24" y="374.49"/><use href="#b" x="122.68" y="398.66"/><use href="#b" x="154.03" y="398.66"/><use href="#b" x="185.38" y="398.66"/><use href="#b" x="216.73" y="398.66"/><use href="#b" x="248.08" y="398.66"/><use href="#b" x="279.43" y="398.66"/><use href="#b" x="310.78" y="398.66"/><use href="#b" x="342.13" y="398.66"/><use href="#b" x="373.48" y="398.66"/><use href="#b" x="404.83" y="398.66"/><use href="#b" x="436.18" y="398.66"/><use href="#b" x="467.53" y="398.66"/><use href="#b" x="498.88" y="398.66"/><use href="#b" x="530.23" y="398.66"/><use href="#b" x="561.58" y="398.66"/><use href="#b" x="592.93" y="398.66"/><use href="#b" x="624.28" y="398.66"/><use href="#b" x="655.63" y="398.66"/><use href="#b" x="686.98" y="398.66"/><use href="#b" x="718.33" y="398.66"/><use href="#b" x="749.68" y="398.66"/><use href="#b" x="781.03" y="398.66"/><use href="#b" x="812.38" y="398.66"/><use href="#b" x="843.73" y="398.66"/><use href="#b" x="875.08" y="398.66"/><use href="#b" x="906.43" y="398.66"/><use href="#b" x="937.78" y="398.66"/><use href="#b" x="969.13" y="398.66"/><use href="#b" x="1000.48" y="398.66"/><use href="#b" x="1031.83" y="398.66"/><use href="#b" x="137.61" y="422.83"/><use href="#b" x="168.96" y="422.83"/><use href="#b" x="200.31" y="422.83"/><use href="#b" x="231.66" y="422.83"/><use href="#b" x="263.01" y="422.83"/><use href="#b" x="294.36" y="422.83"/><use href="#b" x="325.71" y="422.83"/><use href="#b" x="357.06" y="422.83"/><use href="#b" x="388.41" y="422.83"/><use href="#b" x="419.76" y="422.83"/><use href="#b" x="451.11" y="422.83"/><use href="#b" x="482.46" y="422.83"/><use href="#b" x="513.81" y="422.83"/><use href="#b" x="545.16" y="422.83"/><use href="#b" x="576.51" y="422.83"/><use href="#b" x="607.86" y="422.83"/><use href="#b" x="639.21" y="422.83"/><use href="#b" x="670.56" y="422.83"/><use href="#b" x="701.91" y="422.83"/><use href="#b" x="733.26" y="422.83"/><use href="#b" x="764.61" y="422.83"/><use href="#b" x="795.96" y="422.83"/><use href="#b" x="827.31" y="422.83"/><use href="#b" x="858.66" y="422.83"/><use href="#b" x="890.01" y="422.83"/><use href="#b" x="921.36" y="422.83"/><use href="#b" x="952.71" y="422.83"/><use href="#b" x="984.06" y="422.83"/><use href="#b" x="1015.41" y="422.83"/><use href="#b" x="1046.76" y="422.83"/><use href="#b" x="121.2" y="447"/><use href="#b" x="152.55" y="447"/><use href="#b" x="183.9" y="447"/><use href="#b" x="215.25" y="447"/><use href="#b" x="246.6" y="447"/><use href="#b" x="277.95" y="447"/><use href="#b" x="309.3" y="447"/><use href="#b" x="340.65" y="447"/><use href="#b" x="372" y="447"/><use href="#b" x="403.35" y="447"/><use href="#b" x="434.7" y="447"/><use href="#b" x="466.05" y="447"/><use href="#b" x="497.4" y="447"/><use href="#b" x="528.75" y="447"/><use href="#b" x="560.1" y="447"/><use href="#b" x="591.45" y="447"/><use href="#b" x="622.8" y="447"/><use href="#b" x="654.15" y="447"/><use href="#b" x="685.5" y="447"/><use href="#b" x="716.85" y="447"/><use href="#b" x="748.2" y="447"/><use href="#b" x="779.55" y="447"/><use href="#b" x="810.9" y="447"/><use href="#b" x="842.25" y="447"/><use href="#b" x="873.6" y="447"/><use href="#b" x="904.95" y="447"/><use href="#b" x="936.3" y="447"/><use href="#b" x="967.65" y="447"/><use href="#b" x="999" y="447"/><use href="#b" x="1030.35" y="447"/><use href="#b2" x="136.13" y="471.17"/><use href="#b2" x="167.48" y="471.17"/><use href="#b2" x="198.83" y="471.17"/><use href="#b2" x="230.18" y="471.17"/><use href="#b2" x="261.53" y="471.17"/><use href="#b2" x="292.88" y="471.17"/><use href="#b2" x="324.23" y="471.17"/><use href="#b2" x="355.58" y="471.17"/><use href="#b2" x="386.93" y="471.17"/><use href="#b2" x="418.28" y="471.17"/><use href="#b2" x="449.63" y="471.17"/><use href="#b2" x="480.98" y="471.17"/><use href="#b2" x="512.33" y="471.17"/><use href="#b2" x="543.68" y="471.17"/><use href="#b2" x="575.03" y="471.17"/><use href="#b2" x="606.38" y="471.17"/><use href="#b2" x="637.73" y="471.17"/><use href="#b2" x="669.08" y="471.17"/><use href="#b2" x="700.43" y="471.17"/><use href="#b2" x="731.78" y="471.17"/><use href="#b2" x="763.13" y="471.17"/><use href="#b2" x="794.48" y="471.17"/><use href="#b2" x="825.83" y="471.17"/><use href="#b2" x="857.18" y="471.17"/><use href="#b2" x="888.53" y="471.17"/><use href="#b2" x="919.88" y="471.17"/><use href="#b2" x="951.23" y="471.17"/><use href="#b2" x="982.58" y="471.17"/><use href="#b2" x="1013.93" y="471.17"/><use href="#b2" x="1045.28" y="471.17"/>
<path d="M59.6 200.8 C52 203 48.6 211 48.9 218.6 C49.2 224.5 50.8 229 53.2 232.5 C57 238.5 61.5 244.3 68.2 244.3 C77.5 244.3 85.4 240.5 85.4 232.5 C85.4 225.5 78.5 221.8 70.4 221.8 C62 221.8 56.5 227 53.2 232.5 C49.5 239 48.3 247 48.5 255 C48.7 264 50 271.5 52.1 277.5 C55.5 286 61.5 291.9 70.4 291.9 C80.5 291.9 87.5 286.5 87.5 277.5 C87.5 268 80.5 262.5 71.4 262.5 C62 262.5 55.5 269.5 52.1 277.5 C49.5 283.5 47.9 287 47.9 291.4 C47.9 298 49 303.5 50 308.6 C52 318 56.5 326 57.5 334.3 C58.2 340.5 56.6 346 56.6 352" fill="none" stroke="#1c1512" stroke-width="1.05"/>
<g stroke="#1c1512" stroke-width="0.9" fill="#fff">
<rect x="59.4" y="198.7" width="3" height="4.4" fill="#1c1512"/>
<rect x="62.2" y="198.5" width="7.4" height="4.8"/>
<rect x="67.6" y="199.6" width="2.2" height="2.6" fill="#1c1512" stroke="none"/>
<rect x="81" y="198.5" width="7.6" height="4.8"/>
<rect x="80.8" y="199.6" width="2.2" height="2.6" fill="#1c1512" stroke="none"/>
<rect x="88.5" y="198.7" width="3" height="4.4" fill="#1c1512"/>
<rect x="70" y="196.1" width="11.2" height="9.5" rx="2.8" stroke-width="1"/>
</g>
<g stroke="#1c1512" stroke-width="0.9" fill="#fff">
<path d="M1065.9 204.3 C1068 212 1076 216.3 1084.5 216.1 C1094 215.9 1103.5 209 1103.8 199.8" fill="none" stroke-width="1.4"/>
<ellipse cx="1065.6" cy="199.9" rx="2.0" ry="4.4" fill="none" stroke-width="1.4"/>
<rect x="1069.3" y="196.9" width="5.4" height="7.7" fill="#3a2a26"/>
<path d="M1074.6 197.4 L1076.6 195.8 L1089 195.8 L1089 205.4 L1076.6 205.4 L1074.6 203.9 Z" stroke-width="1.15"/>
<path d="M1083.7 199.4 L1088.4 198.2 L1088.4 203.1 L1083.7 201.9 Z" fill="#3a2a26" stroke="none"/>
<rect x="1088.7" y="192.5" width="14.6" height="15.8" rx="4.2" stroke-width="1.25"/>
<circle cx="1104.4" cy="199.9" r="0.8" fill="#1c1512" stroke="none"/>
</g>
<g stroke="#1c1512" stroke-width="0.9" fill="#fff">
<path d="M54.8 363.6 L54.8 356 Q55 353.2 56.8 352 Q58.8 353.5 59 356 L59 363.6 Z" stroke-width="0.8"/>
<path d="M56.9 352 L56.9 360" stroke-width="0.7"/>
<rect x="50.8" y="363.7" width="11.3" height="7.7" rx="0.8" fill="#c9c5c2"/>
<path d="M51 365.7H62M51 367.6H62M51 369.5H62" stroke-width="0.6"/>
<path d="M51.5 371.5 L62.1 371.5 L62.4 373.3 L63.6 374 L63.6 381.2 L49.6 381.2 L49.6 374 L51.2 373.3 Z"/>
<path d="M50 373.4 H63.2" stroke-width="0.7"/>
<rect x="41.8" y="379.2" width="5.8" height="3" rx="1"/>
<rect x="41.1" y="381.2" width="23.3" height="36.2" rx="1.2" stroke-width="1.05"/>
<rect x="47.7" y="417.4" width="1.9" height="10.2" fill="#1c1512" stroke="none"/>
<rect x="55.1" y="417.4" width="1.9" height="10.2" fill="#1c1512" stroke="none"/>
</g>
<rect x="44.3" y="619.3" width="537.2" height="211.5" fill="none" stroke="#000" stroke-width="3"/>
<defs><g id="c"><rect x="-1.45" y="0.65" width="2.9" height="8.6" fill="#fff" stroke="#121010" stroke-width="1.3"/><path d="M-1.5 9.3 L-2.4 11 V16.1 Q-2.4 17.65 -0.9 17.65 H0.9 Q2.4 17.65 2.4 16.1 V11 L1.5 9.3 Z" fill="#fff" stroke="#121010" stroke-width="1.35"/><path d="M-2.4 11.3 H2.4" stroke="#121010" stroke-width="1.1"/><path d="M-2.4 15.7 H2.4" stroke="#121010" stroke-width="1.2"/></g></defs>
<path d="M114 709.6C112.89 717.19 90.18 720.41 86.3 732.6M114 709.6C115.02 717.19 135.98 720.41 139.56 732.6M167.26 709.6C166.15 717.19 143.44 720.41 139.56 732.6M167.26 709.6C168.28 717.19 189.24 720.41 192.82 732.6M220.52 709.6C219.41 717.19 196.7 720.41 192.82 732.6M220.52 709.6C221.54 717.19 242.5 720.41 246.08 732.6M273.78 709.6C272.67 717.19 249.96 720.41 246.08 732.6M273.78 709.6C274.8 717.19 295.76 720.41 299.34 732.6M327.04 709.6C325.93 717.19 303.22 720.41 299.34 732.6M327.04 709.6C328.06 717.19 349.02 720.41 352.6 732.6M380.3 709.6C379.19 717.19 356.48 720.41 352.6 732.6M380.3 709.6C381.32 717.19 402.28 720.41 405.86 732.6M433.56 709.6C432.45 717.19 409.74 720.41 405.86 732.6M433.56 709.6C434.58 717.19 455.54 720.41 459.12 732.6M486.82 709.6C485.71 717.19 463 720.41 459.12 732.6M486.82 709.6C487.84 717.19 508.8 720.41 512.38 732.6M540.08 709.6C538.97 717.19 516.26 720.41 512.38 732.6M540.08 709.6C541.1 717.19 562.06 720.41 565.64 732.6M86.3 750.6C86.81 759.34 106.03 763.71 111.6 773.6M139.56 750.6C139 759.34 117.75 763.71 111.6 773.6M139.56 750.6C140.07 759.34 159.29 763.71 164.86 773.6M192.82 750.6C192.26 759.34 171.01 763.71 164.86 773.6M192.82 750.6C193.33 759.34 212.55 763.71 218.12 773.6M246.08 750.6C245.52 759.34 224.27 763.71 218.12 773.6M246.08 750.6C246.59 759.34 265.81 763.71 271.38 773.6M299.34 750.6C298.78 759.34 277.53 763.71 271.38 773.6M299.34 750.6C299.85 759.34 319.07 763.71 324.64 773.6M352.6 750.6C352.04 759.34 330.79 763.71 324.64 773.6M352.6 750.6C353.11 759.34 372.33 763.71 377.9 773.6M405.86 750.6C405.3 759.34 384.05 763.71 377.9 773.6M405.86 750.6C406.37 759.34 425.59 763.71 431.16 773.6M459.12 750.6C458.56 759.34 437.31 763.71 431.16 773.6M459.12 750.6C459.63 759.34 478.85 763.71 484.42 773.6M512.38 750.6C511.82 759.34 490.57 763.71 484.42 773.6M512.38 750.6C512.89 759.34 532.11 763.71 537.68 773.6M565.64 750.6C565.08 759.34 543.83 763.71 537.68 773.6" fill="none" stroke="#121010" stroke-width="1.25"/>
<use href="#c" x="114" y="691.3"/><use href="#c" x="167.26" y="691.3"/><use href="#c" x="220.52" y="691.3"/><use href="#c" x="273.78" y="691.3"/><use href="#c" x="327.04" y="691.3"/><use href="#c" x="380.3" y="691.3"/><use href="#c" x="433.56" y="691.3"/><use href="#c" x="486.82" y="691.3"/><use href="#c" x="540.08" y="691.3"/><use href="#c" x="86.3" y="732.3"/><use href="#c" x="139.56" y="732.3"/><use href="#c" x="192.82" y="732.3"/><use href="#c" x="246.08" y="732.3"/><use href="#c" x="299.34" y="732.3"/><use href="#c" x="352.6" y="732.3"/><use href="#c" x="405.86" y="732.3"/><use href="#c" x="459.12" y="732.3"/><use href="#c" x="512.38" y="732.3"/><use href="#c" x="565.64" y="732.3"/><use href="#c" x="111.6" y="773.3"/><use href="#c" x="164.86" y="773.3"/><use href="#c" x="218.12" y="773.3"/><use href="#c" x="271.38" y="773.3"/><use href="#c" x="324.64" y="773.3"/><use href="#c" x="377.9" y="773.3"/><use href="#c" x="431.16" y="773.3"/><use href="#c" x="484.42" y="773.3"/><use href="#c" x="537.68" y="773.3"/>
<g stroke="#000" stroke-width="2.8" fill="none">
<path d="M104.1 695.6 L78.9 726.2"/>
<path d="M99.7 691.9 L108.6 699.3 M74.5 722.5 L83.4 729.9"/>
<path d="M273.4 680.4 H327.4" stroke-width="3.3"/>
<path d="M273.65 676.3 V686.4 M327.2 676.3 V686.4" stroke-width="3"/>
</g>
<g font-weight="bold" stroke="#000" stroke-linejoin="miter" fill="#000">
<text transform="matrix(1.13 0.001 0 1 57.13 706.12)" font-size="16.93" stroke-width="0.96">6</text>
<text transform="matrix(1.1 0.001 0 0.943 72.5 706.13)" font-size="17.52" stroke-width="0.99">i</text><text transform="matrix(1.03 0.001 0 0.943 78.89 706.13)" font-size="17.52" stroke-width="0.99">n</text>
<text transform="matrix(1.14 0.001 0 1 276.34 670.25)" font-size="16.03" stroke-width="0.91">4</text><text transform="matrix(1.23 0.001 0 1 287.11 670.25)" font-size="16.03" stroke-width="0.91">.</text><text transform="matrix(1.12 0.001 0 1 293.25 670.25)" font-size="16.03" stroke-width="0.91">7</text>
<text transform="matrix(1.1 0.001 0 0.943 309.94 670.25)" font-size="16.65" stroke-width="0.95">i</text><text transform="matrix(1.03 0.001 0 0.943 316.01 670.25)" font-size="16.65" stroke-width="0.95">n</text>
</g>
<circle cx="124.6" cy="908.5" r="61.4" fill="none" stroke="#1c1512" stroke-width="1.05"/>
<circle cx="309" cy="908.6" r="61.4" fill="none" stroke="#1c1512" stroke-width="1.05"/>
<circle cx="503.6" cy="908.6" r="61.4" fill="none" stroke="#1c1512" stroke-width="1.05"/>
<circle cx="124.4" cy="1063.9" r="61.4" fill="none" stroke="#1c1512" stroke-width="1.05"/>
<circle cx="309" cy="1063.7" r="61.4" fill="none" stroke="#1c1512" stroke-width="1.05"/>
<circle cx="503.6" cy="1063.7" r="61.4" fill="none" stroke="#1c1512" stroke-width="1.05"/>
<g stroke="#15110f" stroke-width="1.3" fill="#fff" stroke-linejoin="round">
<path d="M83 902.7 H68.6 Q65.5 902.7 65.5 905.65 Q65.5 908.6 68.6 908.6 H83 Z"/>
<rect x="68" y="903.6" width="5.4" height="4.1" fill="#8d8986" stroke="none"/>
<rect x="83" y="897.1" width="11.2" height="17" rx="1.6" fill="#e6e4e2"/>
<path d="M85.3 898.8V912.4M87 898.8V912.4M88.7 898.8V912.4M90.4 898.8V912.4M92.1 898.8V912.4" stroke-width="0.7" stroke="#55504c"/>
<path d="M84.2 899.2 H93" stroke-width="0.6"/>
<rect x="94.6" y="897.3" width="6.2" height="16.6" rx="1.2"/>
<path d="M100.8 896.6 L103 894.9 H110.4 V915.6 H103 L100.8 914 Z"/>
<path d="M101.6 897.5 V913.3" stroke-width="0.7"/>
<rect x="106.2" y="919" width="5" height="8.8" rx="1.6"/>
<rect x="110.4" y="893.5" width="55.6" height="36.6" rx="1.3" stroke-width="1.5"/>
<path d="M166.2 906.6 H181 M166.2 917.9 H181" stroke-width="2.6" stroke-linecap="round" stroke="#111"/>
</g>
<g stroke="#15110f" stroke-width="1.3" fill="#fff" stroke-linejoin="round">
<path d="M80.4 1061.2 H68.2 Q65.4 1061.2 65.4 1063.9 Q65.4 1066.6 68.2 1066.6 H80.4 Z"/>
<rect x="67.6" y="1062.1" width="4.6" height="3.6" fill="#8d8986" stroke="none"/>
<rect x="80.4" y="1056.5" width="9" height="13.8" rx="1.5" fill="#e0dedc"/>
<path d="M82.3 1058V1068.8M83.9 1058V1068.8M85.5 1058V1068.8M87.1 1058V1068.8" stroke-width="0.7" stroke="#55504c"/>
<rect x="99.7" y="1059.2" width="5.4" height="8.5" rx="0.6" fill="#bdb9b6" stroke-width="0.8"/>
<path d="M101.2 1059.6V1067.3M102.6 1059.6V1067.3M104 1059.6V1067.3" stroke-width="0.6" stroke="#55504c"/>
<path d="M105.1 1058.2 L106.6 1056.5 H109.8 V1069.8 H106.6 L105.1 1068.3 Z"/>
<path d="M109.8 1056 L111.6 1054.8 H119.4 V1070.9 H111.6 L109.8 1069.9 Z"/>
<rect x="116.6" y="1074" width="4" height="8" rx="1.4"/>
<rect x="119.4" y="1052.2" width="48" height="31.5" rx="1.3" stroke-width="1.5"/>
<path d="M167.6 1063.7 H180 M167.6 1073.3 H180" stroke-width="2.5" stroke-linecap="round" stroke="#111"/>
</g>
<g stroke="#1c1512" stroke-width="1.3" fill="#fff" stroke-linejoin="round">
<path d="M284.1 911.1 C285.5 917 288 921 292 924.2 C299 929.8 309 931.6 319.2 931.3 C330 931 341 924 345.6 915.6 C347.6 912 348.6 908.5 348.8 905.4" fill="none" stroke-width="1.9"/>
<path d="M257.4 904.6 L259.6 906.1 L257.6 907.9 C268 906.8 280 905.9 291.5 905.4 V903.6 C280 903.6 268 904 257.4 904.6 Z" fill="#1c1512" stroke-width="1.4"/>
<ellipse cx="284.9" cy="904" rx="3.1" ry="7.3" fill="none" stroke-width="1.9"/>
<rect x="291.5" y="898.3" width="8.8" height="13.7" fill="#3d2e29" stroke-width="0.8"/>
<path d="M294.2 899.6V910.8M296.9 899.6V910.8" stroke="#8b7c76" stroke-width="0.8"/>
<path d="M300.4 899.6 L302.6 896.5 H324.3 V913.4 H302.6 L300.4 910.6 Z" stroke-width="1.4"/>
<path d="M314.9 901.7 L322.4 899.8 V909 L314.9 907.1 Z" fill="#3d2e29" stroke="none"/>
<rect x="324.4" y="891.9" width="22.3" height="26.5" rx="5.6" stroke-width="1.5"/>
<circle cx="349.1" cy="904" r="1.35" stroke-width="0.9"/>
</g>
<g stroke="#1c1512" stroke-width="1.3" fill="#fff" stroke-linejoin="round">
<path d="M446 908.8 H461.5" stroke-width="2.2" stroke="#111"/>
<rect x="461.2" y="903.4" width="5.7" height="9.8" fill="#3d2e29" stroke-width="0.8"/>
<path d="M466.9 904.3 L469 902 H484.4 V914.3 H469 L466.9 912.2 Z"/>
<path d="M478 906.6 L482.6 905.2 V911.1 L478 909.7 Z" fill="#3d2e29" stroke="none"/>
<rect x="484.2" y="898.8" width="18.7" height="19.2" rx="5.2" stroke-width="1.4"/>
<rect x="506.4" y="902.1" width="8.8" height="12.6" rx="1.8" fill="#3d2e29" stroke-width="0.8"/>
<path d="M515.2 902 H532 L534.2 904.1 V912.4 L532 914.3 H515.2 Z"/>
<path d="M519.8 905.2 L525.6 906.6 V909.8 L519.8 911.2 Z" fill="#3d2e29" stroke="none"/>
<rect x="533.8" y="903.9" width="5.3" height="8.8" fill="#3d2e29" stroke-width="0.8"/>
<path d="M539.1 908.1 C547 908 555 908.6 561.6 907.6 L562 909.2 C555 909.6 547 909.1 539.1 909.3 Z" fill="#111" stroke="#111" stroke-width="1"/>
</g>
<g stroke="#1c1512" stroke-width="1.3" fill="#fff" stroke-linejoin="round">
<path d="M287.1 1062.6 C285.4 1070 286.2 1080.5 291.5 1091.3 S309 1110.8 321.2 1110.6 S337.4 1104.8 340.9 1101.2" fill="none" stroke-width="2"/>
<path d="M261.8 1056.8 L263.8 1058.3 L262 1060 C273 1058.7 284 1057.7 295.5 1057.1 V1055.3 C284 1055.3 273 1055.9 261.8 1056.8 Z" fill="#1c1512" stroke-width="1.4"/>
<ellipse cx="288.5" cy="1056.3" rx="4.5" ry="6.1" fill="none" stroke-width="2.1"/>
<rect x="295.2" y="1050.4" width="10.2" height="13.6" fill="#3d2e29" stroke-width="0.8"/>
<path d="M298.4 1051.6V1062.8M301.6 1051.6V1062.8" stroke="#8b7c76" stroke-width="0.9"/>
<path d="M305.4 1051.4 L307.6 1048.4 H331 V1064.6 H307.6 L305.4 1062.4 Z" stroke-width="1.4"/>
<path d="M316 1054.4 L323 1052 V1061.6 L316 1059.2 Z" fill="#3d2e29" stroke="none"/>
<path d="M329.6 1047.4 H338.4 Q343.4 1047.4 343.4 1052.4 V1061.6 Q343.4 1066.6 338.4 1066.6 H329.6 Q331.6 1057 329.6 1047.4 Z" fill="#3d2e29" stroke-width="1"/>
<path d="M334.6 1050.4 Q338 1057 334.6 1063.6 M338.2 1051.4 Q341 1057 338.2 1062.6" fill="none" stroke="#9a8a84" stroke-width="1"/>
<g transform="translate(334.2 1092.9) rotate(39)">
<rect x="-8.7" y="-9.7" width="17.4" height="19.4" rx="4.6" stroke-width="1.25"/>
<path d="M-7.8 -6.6H7.8M-8.5 -4.4H8.5M-8.5 -2.2H8.5M-8.5 0H8.5M-8.5 2.2H8.5M-8.5 4.4H8.5M-7.8 6.6H7.8" stroke-width="0.9"/>
</g>
<circle cx="340.9" cy="1101.1" r="1.4" stroke-width="0.9"/>
</g>
<g stroke="#1c1512" stroke-width="1.3" fill="#fff" stroke-linejoin="round">
<path d="M443.8 1062.3 H462.4 M544 1062.3 H563.2" stroke-width="2.6" stroke="#111"/>
<rect x="462.2" y="1056" width="8.8" height="12.6" fill="#3d2e29" stroke-width="0.8"/>
<path d="M464.6 1057.2V1067.4M467 1057.2V1067.4" stroke="#8b7c76" stroke-width="0.8"/>
<path d="M471 1056.8 L473.2 1054.4 H491.6 V1069.7 H473.2 L471 1067.6 Z"/>
<path d="M484.2 1059.2 L488.4 1058 V1066.2 L484.2 1065 Z" fill="#3d2e29" stroke="none"/>
<rect x="488.2" y="1058.6" width="2.6" height="7" fill="#b4aaa6" stroke="none"/>
<path d="M514.2 1054.4 H533 L535.2 1056.8 V1067.6 L533 1069.7 H514.2 Z"/>
<path d="M521.8 1059.2 L517.6 1058 V1066.2 L521.8 1065 Z" fill="#3d2e29" stroke="none"/>
<rect x="515.2" y="1058.6" width="2.6" height="7" fill="#b4aaa6" stroke="none"/>
<rect x="535.4" y="1056" width="8.6" height="12.6" fill="#3d2e29" stroke-width="0.8"/>
<path d="M538 1057.2V1067.4M540.6 1057.2V1067.4" stroke="#8b7c76" stroke-width="0.8"/>
<rect x="491.3" y="1050.6" width="23" height="23.7" rx="6.2" stroke-width="1.5"/>
</g>
<text transform="matrix(1 0.0006 0 1 189.4 992.9)" font-size="25.5" font-weight="bold" stroke="#000" stroke-width="0.3" textLength="275.6" lengthAdjust="spacingAndGlyphs">Connect up to 3 Sets</text>
<text transform="matrix(1 0.0006 0 1 88.4 1142.7)" font-size="18.3" font-weight="normal" stroke="#000" stroke-width="0.3" textLength="72.2" lengthAdjust="spacingAndGlyphs">Remove</text>
<text transform="matrix(1 0.0006 0 1 76.6 1165.2)" font-size="18.3" font-weight="normal" stroke="#000" stroke-width="0.3" textLength="96" lengthAdjust="spacingAndGlyphs">the adapter</text>
<text transform="matrix(1 0.0006 0 1 240.2 1142.7)" font-size="18.3" font-weight="normal" stroke="#000" stroke-width="0.3" textLength="139.2" lengthAdjust="spacingAndGlyphs">Remove the cap</text>
<text transform="matrix(1 0.0006 0 1 246.8 1165.2)" font-size="18.3" font-weight="normal" stroke="#000" stroke-width="0.3" textLength="126.4" lengthAdjust="spacingAndGlyphs">of the end plug</text>
<text transform="matrix(1 0.0006 0 1 453.3 1142.7)" font-size="18.3" font-weight="normal" stroke="#000" stroke-width="0.3" textLength="98.8" lengthAdjust="spacingAndGlyphs">connect the</text>
<text transform="matrix(1 0.0006 0 1 429 1165.2)" font-size="18.3" font-weight="normal" stroke="#000" stroke-width="0.3" textLength="147.8" lengthAdjust="spacingAndGlyphs">end plug together</text>
<g stroke="#0c0c0c" stroke-width="1.9" fill="#fff" stroke-linejoin="round">
<path d="M781.4 699 V646.4 Q781.4 644.7 783.1 644.7 H787.6 Q789.3 644.7 789.3 646.4 V699 Z" fill="#0c0c0c" stroke="none"/>
<path d="M820.8 699 V646.4 Q820.8 644.7 822.5 644.7 H827.1 Q828.8 644.7 828.8 646.4 V699 Z" fill="#0c0c0c" stroke="none"/>
<rect x="740.2" y="699.5" width="125.7" height="194.6" rx="3.6"/>
<path d="M740.6 890.9 H865.6" stroke-width="1.5"/>
<path d="M828.6 894.3 V900.8 Q828.6 905.9 833.8 905.9 H853.2 Q858.4 905.9 858.4 900.8 V894.3" stroke-width="1.8"/>
<path d="M829 896.2 H858" stroke-width="1.2"/>
<path d="M747.6 893 V921.5 L753.8 932.6 H810.2 L816.6 921.5 V893" stroke-width="1.7"/>
<rect x="747.5" y="892.4" width="69.2" height="34.7" rx="4.2" stroke-width="1.8"/>
<rect x="754" y="933.2" width="56.4" height="16.6" rx="3.4" stroke-width="1.8"/>
<path d="M773.2 987.5 V1040.5 Q773.2 1050 782.4 1050 Q791.6 1050 791.6 1040.5 V987.5 Z" stroke-width="1.8"/>
<path d="M773.6 1020.6 Q782.4 1025.8 791.2 1020.6 M773.6 1027 Q782.4 1032.2 791.2 1027 M773.6 1033.4 Q782.4 1038.6 791.2 1033.4 M774 1039.8 Q782.4 1045 790.8 1039.8" fill="none" stroke-width="1.6"/>
<rect x="753.9" y="952.6" width="57.4" height="35.6" rx="6" stroke-width="2.1"/>
<path d="M760.4 958.6V980.8M767 958.6V980.8M773.7 958.6V980.8M780.3 958.6V980.8M787 958.6V980.8M793.6 958.6V980.8M800.3 958.6V980.8M806.9 958.6V980.8" stroke-width="1.7" stroke-linecap="butt"/>
<path d="M846.4 1051.3 V925" stroke-width="3.1" stroke="#000"/>
<path d="M846.1 910.6 L856 926.2 H836.8 Z" fill="#000" stroke="#000" stroke-width="0.6"/>
</g>
<text transform="matrix(1 0.0006 0 1 888.8 715.7)" font-size="29.9" font-weight="normal" stroke="#000" stroke-width="0.3" textLength="242.4" lengthAdjust="spacingAndGlyphs">8 Function Modes</text>
<text transform="matrix(1 0.0006 0 0.93 1134 715.7)" font-size="29.9" stroke="#000" stroke-width="0.3">:</text>
<text transform="matrix(1 0.0006 0 1 889.2 748)" font-size="21.4" font-weight="normal" stroke="#000" stroke-width="0.3" textLength="150.1" lengthAdjust="spacingAndGlyphs">1 Combination</text>
<text transform="matrix(1 0.0006 0 1 889.2 775.86)" font-size="21.4" font-weight="normal" stroke="#000" stroke-width="0.3" textLength="115.9" lengthAdjust="spacingAndGlyphs">2 In Waves</text>
<text transform="matrix(1 0.0006 0 1 889.2 803.72)" font-size="21.4" font-weight="normal" stroke="#000" stroke-width="0.3" textLength="129.3" lengthAdjust="spacingAndGlyphs">3 Sequential</text>
<text transform="matrix(1 0.0006 0 1 889.2 831.58)" font-size="21.4" font-weight="normal" stroke="#000" stroke-width="0.3" textLength="77.9" lengthAdjust="spacingAndGlyphs">4 Slogs</text>
<text transform="matrix(1 0.0006 0 1 889.2 859.44)" font-size="21.4" font-weight="normal" stroke="#000" stroke-width="0.3" textLength="167.8" lengthAdjust="spacingAndGlyphs">5 Chasing/Flash</text>
<text transform="matrix(1 0.0006 0 1 889.2 887.3)" font-size="21.4" font-weight="normal" stroke="#000" stroke-width="0.3" textLength="129.3" lengthAdjust="spacingAndGlyphs">6 Slow Fade</text>
<text transform="matrix(1 0.0006 0 1 889.2 915.16)" font-size="21.4" font-weight="normal" stroke="#000" stroke-width="0.3" textLength="159.8" lengthAdjust="spacingAndGlyphs">7 Twinkle/Flash</text>
<text transform="matrix(1 0.0006 0 1 889.2 943.02)" font-size="21.4" font-weight="normal" stroke="#000" stroke-width="0.3" textLength="124" lengthAdjust="spacingAndGlyphs">8 Steady on</text>
</g>
</svg>
</body></html>
